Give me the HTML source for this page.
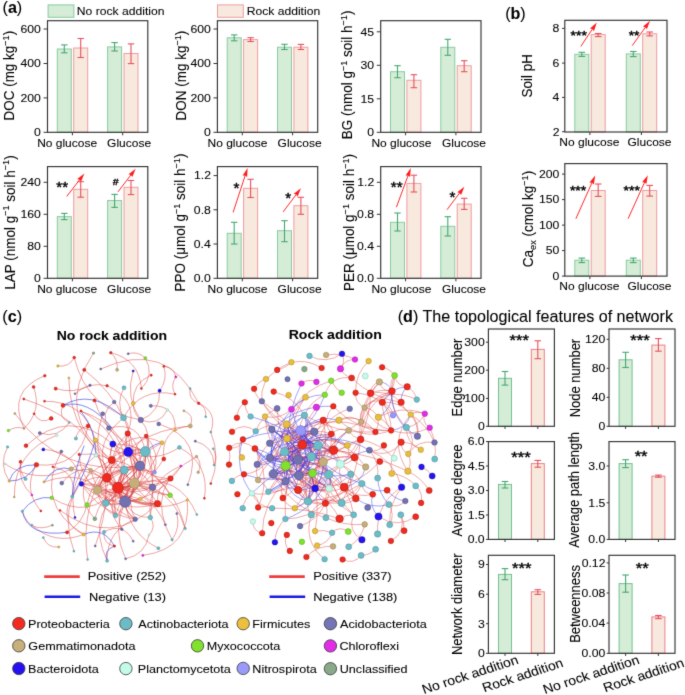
<!DOCTYPE html>
<html><head><meta charset="utf-8"><title>Figure</title>
<style>html,body{margin:0;padding:0;background:#fff;}svg{display:block;}text{font-family:"Liberation Sans", sans-serif;}</style>
</head><body>
<svg width="685" height="695" viewBox="0 0 685 695" font-family='"Liberation Sans", sans-serif'>
<defs><filter id="soft" x="0" y="0" width="685" height="695" filterUnits="userSpaceOnUse" color-interpolation-filters="sRGB"><feConvolveMatrix order="3" kernelMatrix="0.0114 0.084 0.0114 0.084 0.618 0.084 0.0114 0.084 0.0114" edgeMode="duplicate" preserveAlpha="false"/></filter></defs>
<rect width="100%" height="100%" fill="#ffffff"/>
<g filter="url(#soft)">
<rect width="100%" height="100%" fill="#ffffff"/>
<text font-size="16.1" text-anchor="start" font-weight="normal" fill="#000" stroke="#000" stroke-width="0.08" transform="translate(2.53 13.2) scale(1 1.0)">(<tspan font-weight="bold">a</tspan>)</text>
<text font-size="16.1" text-anchor="start" font-weight="normal" fill="#000" stroke="#000" stroke-width="0.08" transform="translate(505.13 19.4) scale(1 1.0)">(<tspan font-weight="bold">b</tspan>)</text>
<text font-size="16.1" text-anchor="start" font-weight="normal" fill="#000" stroke="#000" stroke-width="0.08" transform="translate(2.33 322.1) scale(1 1.0)">(<tspan font-weight="bold">c</tspan>)</text>
<text font-size="16.1" text-anchor="start" font-weight="normal" fill="#000" stroke="#000" stroke-width="0.08" transform="translate(397.73 322.2) scale(1 1.0)">(<tspan font-weight="bold">d</tspan>) The topological features of network</text>
<rect x="48.1" y="4.9" width="25.8" height="12.4" fill="#d5ecd6" stroke="#88cca0" stroke-width="1"/>
<text font-size="12.15" text-anchor="start" font-weight="normal" fill="#000" stroke="#000" stroke-width="0.08" transform="translate(76.83 15.1) scale(1 0.92)">No rock addition</text>
<rect x="217.5" y="4.9" width="25.8" height="12.4" fill="#f7e9dd" stroke="#f09ca2" stroke-width="1"/>
<text font-size="12.15" text-anchor="start" font-weight="normal" fill="#000" stroke="#000" stroke-width="0.08" transform="translate(246.63 15.1) scale(1 0.92)">Rock addition</text>
<rect x="57.3" y="49" width="14" height="83.3" fill="#d5ecd6" stroke="#88cca0" stroke-width="1"/>
<rect x="73.7" y="48" width="14" height="84.3" fill="#f7e9dd" stroke="#f09ca2" stroke-width="1"/>
<line x1="64.3" y1="44.9" x2="64.3" y2="52.8" stroke="#45a870" stroke-width="1.1"/>
<line x1="61.1" y1="44.9" x2="67.5" y2="44.9" stroke="#45a870" stroke-width="1.1"/>
<line x1="61.1" y1="52.8" x2="67.5" y2="52.8" stroke="#45a870" stroke-width="1.1"/>
<line x1="80.7" y1="38.5" x2="80.7" y2="57.5" stroke="#e8505e" stroke-width="1.1"/>
<line x1="77.5" y1="38.5" x2="83.9" y2="38.5" stroke="#e8505e" stroke-width="1.1"/>
<line x1="77.5" y1="57.5" x2="83.9" y2="57.5" stroke="#e8505e" stroke-width="1.1"/>
<rect x="107.6" y="46.9" width="14" height="85.4" fill="#d5ecd6" stroke="#88cca0" stroke-width="1"/>
<rect x="124" y="53.5" width="14" height="78.8" fill="#f7e9dd" stroke="#f09ca2" stroke-width="1"/>
<line x1="114.6" y1="42.6" x2="114.6" y2="51" stroke="#45a870" stroke-width="1.1"/>
<line x1="111.4" y1="42.6" x2="117.8" y2="42.6" stroke="#45a870" stroke-width="1.1"/>
<line x1="111.4" y1="51" x2="117.8" y2="51" stroke="#45a870" stroke-width="1.1"/>
<line x1="131" y1="43.9" x2="131" y2="63.6" stroke="#e8505e" stroke-width="1.1"/>
<line x1="127.8" y1="43.9" x2="134.2" y2="43.9" stroke="#e8505e" stroke-width="1.1"/>
<line x1="127.8" y1="63.6" x2="134.2" y2="63.6" stroke="#e8505e" stroke-width="1.1"/>
<rect x="47.5" y="20.7" width="100.3" height="111.6" fill="none" stroke="#333333" stroke-width="1.15"/>
<line x1="43.6" y1="132.3" x2="47.5" y2="132.3" stroke="#333333" stroke-width="1"/>
<text font-size="12.25" text-anchor="start" font-weight="normal" fill="#000" stroke="#000" stroke-width="0.08" transform="translate(34.09 136.15) scale(1 0.92)">0</text>
<line x1="43.6" y1="97.9" x2="47.5" y2="97.9" stroke="#333333" stroke-width="1"/>
<text font-size="12.25" text-anchor="start" font-weight="normal" fill="#000" stroke="#000" stroke-width="0.08" transform="translate(20.49 101.75) scale(1 0.92)">200</text>
<line x1="43.6" y1="63.5" x2="47.5" y2="63.5" stroke="#333333" stroke-width="1"/>
<text font-size="12.25" text-anchor="start" font-weight="normal" fill="#000" stroke="#000" stroke-width="0.08" transform="translate(20.49 67.35) scale(1 0.92)">400</text>
<line x1="43.6" y1="29" x2="47.5" y2="29" stroke="#333333" stroke-width="1"/>
<text font-size="12.25" text-anchor="start" font-weight="normal" fill="#000" stroke="#000" stroke-width="0.08" transform="translate(20.49 32.85) scale(1 0.92)">600</text>
<line x1="72.4" y1="132.3" x2="72.4" y2="135.3" stroke="#333333" stroke-width="1"/>
<line x1="122.7" y1="132.3" x2="122.7" y2="135.3" stroke="#333333" stroke-width="1"/>
<text font-size="12" text-anchor="start" font-weight="normal" fill="#000" stroke="#000" stroke-width="0.08" transform="translate(37.14 147.2) scale(1 0.92)">No glucose</text>
<text font-size="12" text-anchor="start" font-weight="normal" fill="#000" stroke="#000" stroke-width="0.08" transform="translate(107.1 147.2) scale(1 0.92)">Glucose</text>
<rect x="227.2" y="37.8" width="14" height="94.5" fill="#d5ecd6" stroke="#88cca0" stroke-width="1"/>
<rect x="243.6" y="39.6" width="14" height="92.7" fill="#f7e9dd" stroke="#f09ca2" stroke-width="1"/>
<line x1="234.2" y1="34.9" x2="234.2" y2="40.8" stroke="#45a870" stroke-width="1.1"/>
<line x1="231" y1="34.9" x2="237.4" y2="34.9" stroke="#45a870" stroke-width="1.1"/>
<line x1="231" y1="40.8" x2="237.4" y2="40.8" stroke="#45a870" stroke-width="1.1"/>
<line x1="250.6" y1="37.7" x2="250.6" y2="41.5" stroke="#e8505e" stroke-width="1.1"/>
<line x1="247.4" y1="37.7" x2="253.8" y2="37.7" stroke="#e8505e" stroke-width="1.1"/>
<line x1="247.4" y1="41.5" x2="253.8" y2="41.5" stroke="#e8505e" stroke-width="1.1"/>
<rect x="277.5" y="47.2" width="14" height="85.1" fill="#d5ecd6" stroke="#88cca0" stroke-width="1"/>
<rect x="293.9" y="47.2" width="14" height="85.1" fill="#f7e9dd" stroke="#f09ca2" stroke-width="1"/>
<line x1="284.5" y1="44.3" x2="284.5" y2="49.5" stroke="#45a870" stroke-width="1.1"/>
<line x1="281.3" y1="44.3" x2="287.7" y2="44.3" stroke="#45a870" stroke-width="1.1"/>
<line x1="281.3" y1="49.5" x2="287.7" y2="49.5" stroke="#45a870" stroke-width="1.1"/>
<line x1="300.9" y1="44.4" x2="300.9" y2="49.5" stroke="#e8505e" stroke-width="1.1"/>
<line x1="297.7" y1="44.4" x2="304.1" y2="44.4" stroke="#e8505e" stroke-width="1.1"/>
<line x1="297.7" y1="49.5" x2="304.1" y2="49.5" stroke="#e8505e" stroke-width="1.1"/>
<rect x="217.4" y="20.7" width="100.3" height="111.6" fill="none" stroke="#333333" stroke-width="1.15"/>
<line x1="213.5" y1="132.3" x2="217.4" y2="132.3" stroke="#333333" stroke-width="1"/>
<text font-size="12.25" text-anchor="start" font-weight="normal" fill="#000" stroke="#000" stroke-width="0.08" transform="translate(203.99 136.15) scale(1 0.92)">0</text>
<line x1="213.5" y1="97.9" x2="217.4" y2="97.9" stroke="#333333" stroke-width="1"/>
<text font-size="12.25" text-anchor="start" font-weight="normal" fill="#000" stroke="#000" stroke-width="0.08" transform="translate(190.39 101.75) scale(1 0.92)">200</text>
<line x1="213.5" y1="63.5" x2="217.4" y2="63.5" stroke="#333333" stroke-width="1"/>
<text font-size="12.25" text-anchor="start" font-weight="normal" fill="#000" stroke="#000" stroke-width="0.08" transform="translate(190.39 67.35) scale(1 0.92)">400</text>
<line x1="213.5" y1="29" x2="217.4" y2="29" stroke="#333333" stroke-width="1"/>
<text font-size="12.25" text-anchor="start" font-weight="normal" fill="#000" stroke="#000" stroke-width="0.08" transform="translate(190.39 32.85) scale(1 0.92)">600</text>
<line x1="242.3" y1="132.3" x2="242.3" y2="135.3" stroke="#333333" stroke-width="1"/>
<line x1="292.6" y1="132.3" x2="292.6" y2="135.3" stroke="#333333" stroke-width="1"/>
<text font-size="12" text-anchor="start" font-weight="normal" fill="#000" stroke="#000" stroke-width="0.08" transform="translate(207.54 147.2) scale(1 0.92)">No glucose</text>
<text font-size="12" text-anchor="start" font-weight="normal" fill="#000" stroke="#000" stroke-width="0.08" transform="translate(277.6 147.2) scale(1 0.92)">Glucose</text>
<rect x="390.5" y="71.7" width="14" height="60.6" fill="#d5ecd6" stroke="#88cca0" stroke-width="1"/>
<rect x="406.9" y="80.3" width="14" height="52" fill="#f7e9dd" stroke="#f09ca2" stroke-width="1"/>
<line x1="397.5" y1="65.7" x2="397.5" y2="77.7" stroke="#45a870" stroke-width="1.1"/>
<line x1="394.3" y1="65.7" x2="400.7" y2="65.7" stroke="#45a870" stroke-width="1.1"/>
<line x1="394.3" y1="77.7" x2="400.7" y2="77.7" stroke="#45a870" stroke-width="1.1"/>
<line x1="413.9" y1="74.7" x2="413.9" y2="87.7" stroke="#e8505e" stroke-width="1.1"/>
<line x1="410.7" y1="74.7" x2="417.1" y2="74.7" stroke="#e8505e" stroke-width="1.1"/>
<line x1="410.7" y1="87.7" x2="417.1" y2="87.7" stroke="#e8505e" stroke-width="1.1"/>
<rect x="440.8" y="47.3" width="14" height="85" fill="#d5ecd6" stroke="#88cca0" stroke-width="1"/>
<rect x="457.2" y="65.7" width="14" height="66.6" fill="#f7e9dd" stroke="#f09ca2" stroke-width="1"/>
<line x1="447.8" y1="39.3" x2="447.8" y2="55.3" stroke="#45a870" stroke-width="1.1"/>
<line x1="444.6" y1="39.3" x2="451" y2="39.3" stroke="#45a870" stroke-width="1.1"/>
<line x1="444.6" y1="55.3" x2="451" y2="55.3" stroke="#45a870" stroke-width="1.1"/>
<line x1="464.2" y1="60.7" x2="464.2" y2="71.7" stroke="#e8505e" stroke-width="1.1"/>
<line x1="461" y1="60.7" x2="467.4" y2="60.7" stroke="#e8505e" stroke-width="1.1"/>
<line x1="461" y1="71.7" x2="467.4" y2="71.7" stroke="#e8505e" stroke-width="1.1"/>
<rect x="380.7" y="20.7" width="100.3" height="111.6" fill="none" stroke="#333333" stroke-width="1.15"/>
<line x1="376.8" y1="132.3" x2="380.7" y2="132.3" stroke="#333333" stroke-width="1"/>
<text font-size="12.25" text-anchor="start" font-weight="normal" fill="#000" stroke="#000" stroke-width="0.08" transform="translate(367.29 136.15) scale(1 0.92)">0</text>
<line x1="376.8" y1="98.8" x2="380.7" y2="98.8" stroke="#333333" stroke-width="1"/>
<text font-size="12.25" text-anchor="start" font-weight="normal" fill="#000" stroke="#000" stroke-width="0.08" transform="translate(360.55 102.65) scale(1 0.92)">15</text>
<line x1="376.8" y1="65.3" x2="380.7" y2="65.3" stroke="#333333" stroke-width="1"/>
<text font-size="12.25" text-anchor="start" font-weight="normal" fill="#000" stroke="#000" stroke-width="0.08" transform="translate(360.49 69.15) scale(1 0.92)">30</text>
<line x1="376.8" y1="31.8" x2="380.7" y2="31.8" stroke="#333333" stroke-width="1"/>
<text font-size="12.25" text-anchor="start" font-weight="normal" fill="#000" stroke="#000" stroke-width="0.08" transform="translate(360.55 35.65) scale(1 0.92)">45</text>
<line x1="405.6" y1="132.3" x2="405.6" y2="135.3" stroke="#333333" stroke-width="1"/>
<line x1="455.9" y1="132.3" x2="455.9" y2="135.3" stroke="#333333" stroke-width="1"/>
<text font-size="12" text-anchor="start" font-weight="normal" fill="#000" stroke="#000" stroke-width="0.08" transform="translate(371.44 147.2) scale(1 0.92)">No glucose</text>
<text font-size="12" text-anchor="start" font-weight="normal" fill="#000" stroke="#000" stroke-width="0.08" transform="translate(442 147.2) scale(1 0.92)">Glucose</text>
<rect x="57.3" y="216.6" width="14" height="61.7" fill="#d5ecd6" stroke="#88cca0" stroke-width="1"/>
<rect x="73.7" y="189.3" width="14" height="89" fill="#f7e9dd" stroke="#f09ca2" stroke-width="1"/>
<line x1="64.3" y1="213.4" x2="64.3" y2="219.6" stroke="#45a870" stroke-width="1.1"/>
<line x1="61.1" y1="213.4" x2="67.5" y2="213.4" stroke="#45a870" stroke-width="1.1"/>
<line x1="61.1" y1="219.6" x2="67.5" y2="219.6" stroke="#45a870" stroke-width="1.1"/>
<line x1="80.7" y1="181.7" x2="80.7" y2="197.2" stroke="#e8505e" stroke-width="1.1"/>
<line x1="77.5" y1="181.7" x2="83.9" y2="181.7" stroke="#e8505e" stroke-width="1.1"/>
<line x1="77.5" y1="197.2" x2="83.9" y2="197.2" stroke="#e8505e" stroke-width="1.1"/>
<rect x="107.6" y="200.5" width="14" height="77.8" fill="#d5ecd6" stroke="#88cca0" stroke-width="1"/>
<rect x="124" y="187.3" width="14" height="91" fill="#f7e9dd" stroke="#f09ca2" stroke-width="1"/>
<line x1="114.6" y1="194.4" x2="114.6" y2="207.4" stroke="#45a870" stroke-width="1.1"/>
<line x1="111.4" y1="194.4" x2="117.8" y2="194.4" stroke="#45a870" stroke-width="1.1"/>
<line x1="111.4" y1="207.4" x2="117.8" y2="207.4" stroke="#45a870" stroke-width="1.1"/>
<line x1="131" y1="180.5" x2="131" y2="194.6" stroke="#e8505e" stroke-width="1.1"/>
<line x1="127.8" y1="180.5" x2="134.2" y2="180.5" stroke="#e8505e" stroke-width="1.1"/>
<line x1="127.8" y1="194.6" x2="134.2" y2="194.6" stroke="#e8505e" stroke-width="1.1"/>
<rect x="47.5" y="166.6" width="100.3" height="111.7" fill="none" stroke="#333333" stroke-width="1.15"/>
<line x1="43.6" y1="278.3" x2="47.5" y2="278.3" stroke="#333333" stroke-width="1"/>
<text font-size="12.25" text-anchor="start" font-weight="normal" fill="#000" stroke="#000" stroke-width="0.08" transform="translate(34.09 282.15) scale(1 0.92)">0</text>
<line x1="43.6" y1="246.3" x2="47.5" y2="246.3" stroke="#333333" stroke-width="1"/>
<text font-size="12.25" text-anchor="start" font-weight="normal" fill="#000" stroke="#000" stroke-width="0.08" transform="translate(27.29 250.15) scale(1 0.92)">80</text>
<line x1="43.6" y1="214.3" x2="47.5" y2="214.3" stroke="#333333" stroke-width="1"/>
<text font-size="12.25" text-anchor="start" font-weight="normal" fill="#000" stroke="#000" stroke-width="0.08" transform="translate(20.49 218.15) scale(1 0.92)">160</text>
<line x1="43.6" y1="182.3" x2="47.5" y2="182.3" stroke="#333333" stroke-width="1"/>
<text font-size="12.25" text-anchor="start" font-weight="normal" fill="#000" stroke="#000" stroke-width="0.08" transform="translate(20.49 186.15) scale(1 0.92)">240</text>
<line x1="72.4" y1="278.3" x2="72.4" y2="281.3" stroke="#333333" stroke-width="1"/>
<line x1="122.7" y1="278.3" x2="122.7" y2="281.3" stroke="#333333" stroke-width="1"/>
<text font-size="12" text-anchor="start" font-weight="normal" fill="#000" stroke="#000" stroke-width="0.08" transform="translate(37.14 293.2) scale(1 0.92)">No glucose</text>
<text font-size="12" text-anchor="start" font-weight="normal" fill="#000" stroke="#000" stroke-width="0.08" transform="translate(107.1 293.2) scale(1 0.92)">Glucose</text>
<rect x="227.2" y="233.3" width="14" height="45" fill="#d5ecd6" stroke="#88cca0" stroke-width="1"/>
<rect x="243.6" y="188.3" width="14" height="90" fill="#f7e9dd" stroke="#f09ca2" stroke-width="1"/>
<line x1="234.2" y1="222.3" x2="234.2" y2="244" stroke="#45a870" stroke-width="1.1"/>
<line x1="231" y1="222.3" x2="237.4" y2="222.3" stroke="#45a870" stroke-width="1.1"/>
<line x1="231" y1="244" x2="237.4" y2="244" stroke="#45a870" stroke-width="1.1"/>
<line x1="250.6" y1="179.3" x2="250.6" y2="197.5" stroke="#e8505e" stroke-width="1.1"/>
<line x1="247.4" y1="179.3" x2="253.8" y2="179.3" stroke="#e8505e" stroke-width="1.1"/>
<line x1="247.4" y1="197.5" x2="253.8" y2="197.5" stroke="#e8505e" stroke-width="1.1"/>
<rect x="277.5" y="230.7" width="14" height="47.6" fill="#d5ecd6" stroke="#88cca0" stroke-width="1"/>
<rect x="293.9" y="205.7" width="14" height="72.6" fill="#f7e9dd" stroke="#f09ca2" stroke-width="1"/>
<line x1="284.5" y1="220.7" x2="284.5" y2="241.7" stroke="#45a870" stroke-width="1.1"/>
<line x1="281.3" y1="220.7" x2="287.7" y2="220.7" stroke="#45a870" stroke-width="1.1"/>
<line x1="281.3" y1="241.7" x2="287.7" y2="241.7" stroke="#45a870" stroke-width="1.1"/>
<line x1="300.9" y1="197.3" x2="300.9" y2="214.3" stroke="#e8505e" stroke-width="1.1"/>
<line x1="297.7" y1="197.3" x2="304.1" y2="197.3" stroke="#e8505e" stroke-width="1.1"/>
<line x1="297.7" y1="214.3" x2="304.1" y2="214.3" stroke="#e8505e" stroke-width="1.1"/>
<rect x="217.4" y="166.6" width="100.3" height="111.7" fill="none" stroke="#333333" stroke-width="1.15"/>
<line x1="213.5" y1="278.3" x2="217.4" y2="278.3" stroke="#333333" stroke-width="1"/>
<text font-size="12.25" text-anchor="start" font-weight="normal" fill="#000" stroke="#000" stroke-width="0.08" transform="translate(193.76 282.15) scale(1 0.92)">0.0</text>
<line x1="213.5" y1="244" x2="217.4" y2="244" stroke="#333333" stroke-width="1"/>
<text font-size="12.25" text-anchor="start" font-weight="normal" fill="#000" stroke="#000" stroke-width="0.08" transform="translate(193.7 247.85) scale(1 0.92)">0.4</text>
<line x1="213.5" y1="209.8" x2="217.4" y2="209.8" stroke="#333333" stroke-width="1"/>
<text font-size="12.25" text-anchor="start" font-weight="normal" fill="#000" stroke="#000" stroke-width="0.08" transform="translate(193.82 213.65) scale(1 0.92)">0.8</text>
<line x1="213.5" y1="175.6" x2="217.4" y2="175.6" stroke="#333333" stroke-width="1"/>
<text font-size="12.25" text-anchor="start" font-weight="normal" fill="#000" stroke="#000" stroke-width="0.08" transform="translate(193.95 179.45) scale(1 0.92)">1.2</text>
<line x1="242.3" y1="278.3" x2="242.3" y2="281.3" stroke="#333333" stroke-width="1"/>
<line x1="292.6" y1="278.3" x2="292.6" y2="281.3" stroke="#333333" stroke-width="1"/>
<text font-size="12" text-anchor="start" font-weight="normal" fill="#000" stroke="#000" stroke-width="0.08" transform="translate(207.54 293.2) scale(1 0.92)">No glucose</text>
<text font-size="12" text-anchor="start" font-weight="normal" fill="#000" stroke="#000" stroke-width="0.08" transform="translate(277.6 293.2) scale(1 0.92)">Glucose</text>
<rect x="390.5" y="222.3" width="14" height="56" fill="#d5ecd6" stroke="#88cca0" stroke-width="1"/>
<rect x="406.9" y="183.4" width="14" height="94.9" fill="#f7e9dd" stroke="#f09ca2" stroke-width="1"/>
<line x1="397.5" y1="213" x2="397.5" y2="231" stroke="#45a870" stroke-width="1.1"/>
<line x1="394.3" y1="213" x2="400.7" y2="213" stroke="#45a870" stroke-width="1.1"/>
<line x1="394.3" y1="231" x2="400.7" y2="231" stroke="#45a870" stroke-width="1.1"/>
<line x1="413.9" y1="175.2" x2="413.9" y2="192" stroke="#e8505e" stroke-width="1.1"/>
<line x1="410.7" y1="175.2" x2="417.1" y2="175.2" stroke="#e8505e" stroke-width="1.1"/>
<line x1="410.7" y1="192" x2="417.1" y2="192" stroke="#e8505e" stroke-width="1.1"/>
<rect x="440.8" y="226.3" width="14" height="52" fill="#d5ecd6" stroke="#88cca0" stroke-width="1"/>
<rect x="457.2" y="204.1" width="14" height="74.2" fill="#f7e9dd" stroke="#f09ca2" stroke-width="1"/>
<line x1="447.8" y1="216.7" x2="447.8" y2="236" stroke="#45a870" stroke-width="1.1"/>
<line x1="444.6" y1="216.7" x2="451" y2="216.7" stroke="#45a870" stroke-width="1.1"/>
<line x1="444.6" y1="236" x2="451" y2="236" stroke="#45a870" stroke-width="1.1"/>
<line x1="464.2" y1="198.3" x2="464.2" y2="209.4" stroke="#e8505e" stroke-width="1.1"/>
<line x1="461" y1="198.3" x2="467.4" y2="198.3" stroke="#e8505e" stroke-width="1.1"/>
<line x1="461" y1="209.4" x2="467.4" y2="209.4" stroke="#e8505e" stroke-width="1.1"/>
<rect x="380.7" y="166.6" width="100.3" height="111.7" fill="none" stroke="#333333" stroke-width="1.15"/>
<line x1="376.8" y1="278.3" x2="380.7" y2="278.3" stroke="#333333" stroke-width="1"/>
<text font-size="12.25" text-anchor="start" font-weight="normal" fill="#000" stroke="#000" stroke-width="0.08" transform="translate(357.06 282.15) scale(1 0.92)">0.0</text>
<line x1="376.8" y1="246.3" x2="380.7" y2="246.3" stroke="#333333" stroke-width="1"/>
<text font-size="12.25" text-anchor="start" font-weight="normal" fill="#000" stroke="#000" stroke-width="0.08" transform="translate(357 250.15) scale(1 0.92)">0.4</text>
<line x1="376.8" y1="214.3" x2="380.7" y2="214.3" stroke="#333333" stroke-width="1"/>
<text font-size="12.25" text-anchor="start" font-weight="normal" fill="#000" stroke="#000" stroke-width="0.08" transform="translate(357.12 218.15) scale(1 0.92)">0.8</text>
<line x1="376.8" y1="182.3" x2="380.7" y2="182.3" stroke="#333333" stroke-width="1"/>
<text font-size="12.25" text-anchor="start" font-weight="normal" fill="#000" stroke="#000" stroke-width="0.08" transform="translate(357.25 186.15) scale(1 0.92)">1.2</text>
<line x1="405.6" y1="278.3" x2="405.6" y2="281.3" stroke="#333333" stroke-width="1"/>
<line x1="455.9" y1="278.3" x2="455.9" y2="281.3" stroke="#333333" stroke-width="1"/>
<text font-size="12" text-anchor="start" font-weight="normal" fill="#000" stroke="#000" stroke-width="0.08" transform="translate(371.44 293.2) scale(1 0.92)">No glucose</text>
<text font-size="12" text-anchor="start" font-weight="normal" fill="#000" stroke="#000" stroke-width="0.08" transform="translate(442 293.2) scale(1 0.92)">Glucose</text>
<text font-size="14.65" text-anchor="middle" font-weight="normal" fill="#000" stroke="#000" stroke-width="0.08" transform="translate(14.3 75.68) scale(1 0.92) rotate(-90)">DOC (mg kg<tspan font-size="9.9" dy="-5.4">&#8722;1</tspan><tspan dy="5.4">)</tspan></text>
<text font-size="14.65" text-anchor="middle" font-weight="normal" fill="#000" stroke="#000" stroke-width="0.08" transform="translate(186.3 75.58) scale(1 0.92) rotate(-90)">DON (mg kg<tspan font-size="9.9" dy="-5.4">&#8722;1</tspan><tspan dy="5.4">)</tspan></text>
<text font-size="14.65" text-anchor="middle" font-weight="normal" fill="#000" stroke="#000" stroke-width="0.08" transform="translate(352.2 74.89) scale(1 0.92) rotate(-90)">BG (nmol g<tspan font-size="9.9" dy="-5.4">&#8722;1</tspan><tspan dy="5.4"> soil h</tspan><tspan font-size="9.9" dy="-5.4">&#8722;1</tspan><tspan dy="5.4">)</tspan></text>
<text font-size="14.65" text-anchor="middle" font-weight="normal" fill="#000" stroke="#000" stroke-width="0.08" transform="translate(14.6 222.48) scale(1 0.92) rotate(-90)">LAP (nmol g<tspan font-size="9.9" dy="-5.4">&#8722;1</tspan><tspan dy="5.4"> soil h</tspan><tspan font-size="9.9" dy="-5.4">&#8722;1</tspan><tspan dy="5.4">)</tspan></text>
<text font-size="14.65" text-anchor="middle" font-weight="normal" fill="#000" stroke="#000" stroke-width="0.08" transform="translate(185 222.48) scale(1 0.92) rotate(-90)">PPO (&#956;mol g<tspan font-size="9.9" dy="-5.4">&#8722;1</tspan><tspan dy="5.4"> soil h</tspan><tspan font-size="9.9" dy="-5.4">&#8722;1</tspan><tspan dy="5.4">)</tspan></text>
<text font-size="14.65" text-anchor="middle" font-weight="normal" fill="#000" stroke="#000" stroke-width="0.08" transform="translate(354.2 222.48) scale(1 0.92) rotate(-90)">PER (&#956;mol g<tspan font-size="9.9" dy="-5.4">&#8722;1</tspan><tspan dy="5.4"> soil h</tspan><tspan font-size="9.9" dy="-5.4">&#8722;1</tspan><tspan dy="5.4">)</tspan></text>
<line x1="66.7" y1="196.5" x2="81.22" y2="177.64" stroke="#ff1e1e" stroke-width="0.95"/>
<path d="M84.4 173.5L81 181.86L79.62 179.71L77.19 178.93Z" fill="#ff1e1e"/>
<line x1="117.9" y1="191.9" x2="132.52" y2="172.84" stroke="#ff1e1e" stroke-width="0.95"/>
<path d="M135.7 168.7L132.31 177.06L130.93 174.91L128.5 174.14Z" fill="#ff1e1e"/>
<line x1="233.1" y1="212.4" x2="245.98" y2="173.06" stroke="#ff1e1e" stroke-width="0.95"/>
<path d="M247.6 168.1L247.17 177.11L245.16 175.54L242.61 175.62Z" fill="#ff1e1e"/>
<line x1="283.1" y1="211.9" x2="297.76" y2="192.47" stroke="#ff1e1e" stroke-width="0.95"/>
<path d="M300.9 188.3L297.58 196.69L296.19 194.55L293.75 193.8Z" fill="#ff1e1e"/>
<line x1="396.4" y1="207.2" x2="409" y2="173" stroke="#ff1e1e" stroke-width="0.95"/>
<path d="M410.8 168.1L410.05 177.09L408.09 175.45L405.54 175.43Z" fill="#ff1e1e"/>
<line x1="447" y1="209.7" x2="461.25" y2="190.86" stroke="#ff1e1e" stroke-width="0.95"/>
<path d="M464.4 186.7L461.07 195.09L459.68 192.94L457.24 192.19Z" fill="#ff1e1e"/>
<text font-size="15.1" fill="#000" stroke="#000" stroke-width="0.45" transform="translate(56.37 192.39) scale(1 0.92)">**</text>
<text font-size="10.6" font-weight="bold" fill="#000" stroke="#000" stroke-width="0.35" transform="translate(112.84 184.6) scale(1 0.92)">#</text>
<text font-size="15.1" fill="#000" stroke="#000" stroke-width="0.45" transform="translate(233.47 193.19) scale(1 0.92)">*</text>
<text font-size="15.1" fill="#000" stroke="#000" stroke-width="0.45" transform="translate(285.37 202.79) scale(1 0.92)">*</text>
<text font-size="15.1" fill="#000" stroke="#000" stroke-width="0.45" transform="translate(390.77 192.09) scale(1 0.92)">**</text>
<text font-size="15.1" fill="#000" stroke="#000" stroke-width="0.45" transform="translate(449.57 202.09) scale(1 0.92)">*</text>
<rect x="574.8" y="54.3" width="14" height="77.7" fill="#d5ecd6" stroke="#88cca0" stroke-width="1"/>
<rect x="591.2" y="34.6" width="14" height="97.4" fill="#f7e9dd" stroke="#f09ca2" stroke-width="1"/>
<line x1="581.8" y1="52.3" x2="581.8" y2="56.4" stroke="#45a870" stroke-width="1.1"/>
<line x1="578.5" y1="52.3" x2="585.1" y2="52.3" stroke="#45a870" stroke-width="1.1"/>
<line x1="578.5" y1="56.4" x2="585.1" y2="56.4" stroke="#45a870" stroke-width="1.1"/>
<line x1="598.2" y1="33.5" x2="598.2" y2="36.6" stroke="#e8505e" stroke-width="1.1"/>
<line x1="594.9" y1="33.5" x2="601.5" y2="33.5" stroke="#e8505e" stroke-width="1.1"/>
<line x1="594.9" y1="36.6" x2="601.5" y2="36.6" stroke="#e8505e" stroke-width="1.1"/>
<rect x="626.3" y="53.9" width="14" height="78.1" fill="#d5ecd6" stroke="#88cca0" stroke-width="1"/>
<rect x="642.7" y="33.8" width="14" height="98.2" fill="#f7e9dd" stroke="#f09ca2" stroke-width="1"/>
<line x1="633.3" y1="51.5" x2="633.3" y2="56.6" stroke="#45a870" stroke-width="1.1"/>
<line x1="630" y1="51.5" x2="636.6" y2="51.5" stroke="#45a870" stroke-width="1.1"/>
<line x1="630" y1="56.6" x2="636.6" y2="56.6" stroke="#45a870" stroke-width="1.1"/>
<line x1="649.7" y1="32" x2="649.7" y2="35.9" stroke="#e8505e" stroke-width="1.1"/>
<line x1="646.4" y1="32" x2="653" y2="32" stroke="#e8505e" stroke-width="1.1"/>
<line x1="646.4" y1="35.9" x2="653" y2="35.9" stroke="#e8505e" stroke-width="1.1"/>
<rect x="564.8" y="20.3" width="102.2" height="111.7" fill="none" stroke="#333333" stroke-width="1.15"/>
<line x1="562" y1="131.7" x2="564.8" y2="131.7" stroke="#333333" stroke-width="1"/>
<text font-size="12.25" text-anchor="start" font-weight="normal" fill="#000" stroke="#000" stroke-width="0.08" transform="translate(552.67 135.55) scale(1 0.92)">2</text>
<line x1="562" y1="97.4" x2="564.8" y2="97.4" stroke="#333333" stroke-width="1"/>
<text font-size="12.25" text-anchor="start" font-weight="normal" fill="#000" stroke="#000" stroke-width="0.08" transform="translate(552.43 101.25) scale(1 0.92)">4</text>
<line x1="562" y1="63.1" x2="564.8" y2="63.1" stroke="#333333" stroke-width="1"/>
<text font-size="12.25" text-anchor="start" font-weight="normal" fill="#000" stroke="#000" stroke-width="0.08" transform="translate(552.55 66.95) scale(1 0.92)">6</text>
<line x1="562" y1="28.4" x2="564.8" y2="28.4" stroke="#333333" stroke-width="1"/>
<text font-size="12.25" text-anchor="start" font-weight="normal" fill="#000" stroke="#000" stroke-width="0.08" transform="translate(552.55 32.25) scale(1 0.92)">8</text>
<line x1="589.9" y1="132" x2="589.9" y2="135" stroke="#333333" stroke-width="1"/>
<line x1="641.4" y1="132" x2="641.4" y2="135" stroke="#333333" stroke-width="1"/>
<text font-size="12" text-anchor="start" font-weight="normal" fill="#000" stroke="#000" stroke-width="0.08" transform="translate(559.34 145.9) scale(1 0.92)">No glucose</text>
<text font-size="12" text-anchor="start" font-weight="normal" fill="#000" stroke="#000" stroke-width="0.08" transform="translate(627.5 145.9) scale(1 0.92)">Glucose</text>
<rect x="574.8" y="260.2" width="14" height="15.9" fill="#d5ecd6" stroke="#88cca0" stroke-width="1"/>
<rect x="591.2" y="190.5" width="14" height="85.6" fill="#f7e9dd" stroke="#f09ca2" stroke-width="1"/>
<line x1="581.8" y1="258.1" x2="581.8" y2="262.6" stroke="#45a870" stroke-width="1.1"/>
<line x1="578.5" y1="258.1" x2="585.1" y2="258.1" stroke="#45a870" stroke-width="1.1"/>
<line x1="578.5" y1="262.6" x2="585.1" y2="262.6" stroke="#45a870" stroke-width="1.1"/>
<line x1="598.2" y1="184" x2="598.2" y2="196.4" stroke="#e8505e" stroke-width="1.1"/>
<line x1="594.9" y1="184" x2="601.5" y2="184" stroke="#e8505e" stroke-width="1.1"/>
<line x1="594.9" y1="196.4" x2="601.5" y2="196.4" stroke="#e8505e" stroke-width="1.1"/>
<rect x="626.3" y="260.2" width="14" height="15.9" fill="#d5ecd6" stroke="#88cca0" stroke-width="1"/>
<rect x="642.7" y="190.5" width="14" height="85.6" fill="#f7e9dd" stroke="#f09ca2" stroke-width="1"/>
<line x1="633.3" y1="258.1" x2="633.3" y2="262.6" stroke="#45a870" stroke-width="1.1"/>
<line x1="630" y1="258.1" x2="636.6" y2="258.1" stroke="#45a870" stroke-width="1.1"/>
<line x1="630" y1="262.6" x2="636.6" y2="262.6" stroke="#45a870" stroke-width="1.1"/>
<line x1="649.7" y1="185.4" x2="649.7" y2="196.1" stroke="#e8505e" stroke-width="1.1"/>
<line x1="646.4" y1="185.4" x2="653" y2="185.4" stroke="#e8505e" stroke-width="1.1"/>
<line x1="646.4" y1="196.1" x2="653" y2="196.1" stroke="#e8505e" stroke-width="1.1"/>
<rect x="564.8" y="163.6" width="102.2" height="112.5" fill="none" stroke="#333333" stroke-width="1.15"/>
<line x1="562" y1="276.1" x2="564.8" y2="276.1" stroke="#333333" stroke-width="1"/>
<text font-size="12.25" text-anchor="start" font-weight="normal" fill="#000" stroke="#000" stroke-width="0.08" transform="translate(552.49 279.95) scale(1 0.92)">0</text>
<line x1="562" y1="250.6" x2="564.8" y2="250.6" stroke="#333333" stroke-width="1"/>
<text font-size="12.25" text-anchor="start" font-weight="normal" fill="#000" stroke="#000" stroke-width="0.08" transform="translate(545.69 254.45) scale(1 0.92)">50</text>
<line x1="562" y1="225.1" x2="564.8" y2="225.1" stroke="#333333" stroke-width="1"/>
<text font-size="12.25" text-anchor="start" font-weight="normal" fill="#000" stroke="#000" stroke-width="0.08" transform="translate(538.89 228.95) scale(1 0.92)">100</text>
<line x1="562" y1="199.6" x2="564.8" y2="199.6" stroke="#333333" stroke-width="1"/>
<text font-size="12.25" text-anchor="start" font-weight="normal" fill="#000" stroke="#000" stroke-width="0.08" transform="translate(538.89 203.45) scale(1 0.92)">150</text>
<line x1="562" y1="174.1" x2="564.8" y2="174.1" stroke="#333333" stroke-width="1"/>
<text font-size="12.25" text-anchor="start" font-weight="normal" fill="#000" stroke="#000" stroke-width="0.08" transform="translate(538.89 177.95) scale(1 0.92)">200</text>
<line x1="589.9" y1="276.1" x2="589.9" y2="279.1" stroke="#333333" stroke-width="1"/>
<line x1="641.4" y1="276.1" x2="641.4" y2="279.1" stroke="#333333" stroke-width="1"/>
<text font-size="12" text-anchor="start" font-weight="normal" fill="#000" stroke="#000" stroke-width="0.08" transform="translate(559.34 290) scale(1 0.92)">No glucose</text>
<text font-size="12" text-anchor="start" font-weight="normal" fill="#000" stroke="#000" stroke-width="0.08" transform="translate(627.5 290) scale(1 0.92)">Glucose</text>
<text font-size="14.65" text-anchor="middle" font-weight="normal" fill="#000" stroke="#000" stroke-width="0.08" transform="translate(532.4 75.71) scale(1 0.92) rotate(-90)">Soil pH</text>
<text font-size="14.65" text-anchor="middle" font-weight="normal" fill="#000" stroke="#000" stroke-width="0.08" transform="translate(533 218.98) scale(1 0.92) rotate(-90)">Ca<tspan font-size="9.9" dy="3.1">ex</tspan><tspan dy="-3.1"> (cmol kg</tspan><tspan font-size="9.9" dy="-5.4">&#8722;1</tspan><tspan dy="5.4">)</tspan></text>
<line x1="580.8" y1="46.4" x2="593.89" y2="26.93" stroke="#ff1e1e" stroke-width="0.95"/>
<path d="M596.8 22.6L593.94 31.16L592.43 29.1L589.95 28.48Z" fill="#ff1e1e"/>
<line x1="632.2" y1="45.7" x2="646.96" y2="25.05" stroke="#ff1e1e" stroke-width="0.95"/>
<path d="M650 20.8L646.89 29.27L645.45 27.17L642.99 26.48Z" fill="#ff1e1e"/>
<line x1="575.9" y1="218.7" x2="593.07" y2="180.27" stroke="#ff1e1e" stroke-width="0.95"/>
<path d="M595.2 175.5L593.84 184.42L592.01 182.65L589.46 182.46Z" fill="#ff1e1e"/>
<line x1="628.1" y1="218.7" x2="645.65" y2="179.96" stroke="#ff1e1e" stroke-width="0.95"/>
<path d="M647.8 175.2L646.4 184.12L644.57 182.33L642.02 182.14Z" fill="#ff1e1e"/>
<text font-size="14" fill="#000" stroke="#000" stroke-width="0.45" transform="translate(570.59 39.87) scale(1 0.92)">***</text>
<text font-size="13.8" fill="#000" stroke="#000" stroke-width="0.45" transform="translate(628.69 39.57) scale(1 0.92)">**</text>
<text font-size="14" fill="#000" stroke="#000" stroke-width="0.45" transform="translate(569.89 195.07) scale(1 0.92)">***</text>
<text font-size="14" fill="#000" stroke="#000" stroke-width="0.45" transform="translate(623.59 195.07) scale(1 0.92)">***</text>
<rect x="498.5" y="378.3" width="13" height="48" fill="#d5ecd6" stroke="#72c290" stroke-width="1"/>
<rect x="531.3" y="349.4" width="13" height="76.9" fill="#f7e9dd" stroke="#ec8089" stroke-width="1"/>
<line x1="505" y1="371.5" x2="505" y2="385.1" stroke="#45a870" stroke-width="1.1"/>
<line x1="501.7" y1="371.5" x2="508.3" y2="371.5" stroke="#45a870" stroke-width="1.1"/>
<line x1="501.7" y1="385.1" x2="508.3" y2="385.1" stroke="#45a870" stroke-width="1.1"/>
<line x1="537.8" y1="340.8" x2="537.8" y2="358.7" stroke="#e8505e" stroke-width="1.1"/>
<line x1="534.5" y1="340.8" x2="541.1" y2="340.8" stroke="#e8505e" stroke-width="1.1"/>
<line x1="534.5" y1="358.7" x2="541.1" y2="358.7" stroke="#e8505e" stroke-width="1.1"/>
<rect x="488.4" y="329" width="66" height="97.3" fill="none" stroke="#333333" stroke-width="1.15"/>
<line x1="486" y1="426.3" x2="488.4" y2="426.3" stroke="#333333" stroke-width="1"/>
<text font-size="12.25" text-anchor="start" font-weight="normal" fill="#000" stroke="#000" stroke-width="0.08" transform="translate(477.89 430.15) scale(1 0.92)">0</text>
<line x1="486" y1="398.4" x2="488.4" y2="398.4" stroke="#333333" stroke-width="1"/>
<text font-size="12.25" text-anchor="start" font-weight="normal" fill="#000" stroke="#000" stroke-width="0.08" transform="translate(464.29 402.25) scale(1 0.92)">100</text>
<line x1="486" y1="370.2" x2="488.4" y2="370.2" stroke="#333333" stroke-width="1"/>
<text font-size="12.25" text-anchor="start" font-weight="normal" fill="#000" stroke="#000" stroke-width="0.08" transform="translate(464.29 374.05) scale(1 0.92)">200</text>
<line x1="486" y1="342.2" x2="488.4" y2="342.2" stroke="#333333" stroke-width="1"/>
<text font-size="12.25" text-anchor="start" font-weight="normal" fill="#000" stroke="#000" stroke-width="0.08" transform="translate(464.29 346.05) scale(1 0.92)">300</text>
<line x1="505" y1="426.3" x2="505" y2="428.9" stroke="#333333" stroke-width="1"/>
<line x1="537.8" y1="426.3" x2="537.8" y2="428.9" stroke="#333333" stroke-width="1"/>
<text font-size="14.1" text-anchor="middle" font-weight="normal" fill="#000" stroke="#000" stroke-width="0.08" transform="translate(462.3 377.56) scale(1 0.92) rotate(-90)">Edge number</text>
<text font-size="16.6" fill="#000" stroke="#000" stroke-width="0.45" transform="translate(509.55 344.8) scale(1 0.92)">***</text>
<rect x="619.1" y="359.8" width="13" height="66.5" fill="#d5ecd6" stroke="#72c290" stroke-width="1"/>
<rect x="651.9" y="345.1" width="13" height="81.2" fill="#f7e9dd" stroke="#ec8089" stroke-width="1"/>
<line x1="625.6" y1="352.3" x2="625.6" y2="367.5" stroke="#45a870" stroke-width="1.1"/>
<line x1="622.3" y1="352.3" x2="628.9" y2="352.3" stroke="#45a870" stroke-width="1.1"/>
<line x1="622.3" y1="367.5" x2="628.9" y2="367.5" stroke="#45a870" stroke-width="1.1"/>
<line x1="658.4" y1="338.6" x2="658.4" y2="351.2" stroke="#e8505e" stroke-width="1.1"/>
<line x1="655.1" y1="338.6" x2="661.7" y2="338.6" stroke="#e8505e" stroke-width="1.1"/>
<line x1="655.1" y1="351.2" x2="661.7" y2="351.2" stroke="#e8505e" stroke-width="1.1"/>
<rect x="609" y="329" width="66" height="97.3" fill="none" stroke="#333333" stroke-width="1.15"/>
<line x1="606.6" y1="426.3" x2="609" y2="426.3" stroke="#333333" stroke-width="1"/>
<text font-size="12.25" text-anchor="start" font-weight="normal" fill="#000" stroke="#000" stroke-width="0.08" transform="translate(598.49 430.15) scale(1 0.92)">0</text>
<line x1="606.6" y1="397.3" x2="609" y2="397.3" stroke="#333333" stroke-width="1"/>
<text font-size="12.25" text-anchor="start" font-weight="normal" fill="#000" stroke="#000" stroke-width="0.08" transform="translate(591.69 401.15) scale(1 0.92)">40</text>
<line x1="606.6" y1="368.3" x2="609" y2="368.3" stroke="#333333" stroke-width="1"/>
<text font-size="12.25" text-anchor="start" font-weight="normal" fill="#000" stroke="#000" stroke-width="0.08" transform="translate(591.69 372.15) scale(1 0.92)">80</text>
<line x1="606.6" y1="339.3" x2="609" y2="339.3" stroke="#333333" stroke-width="1"/>
<text font-size="12.25" text-anchor="start" font-weight="normal" fill="#000" stroke="#000" stroke-width="0.08" transform="translate(584.89 343.15) scale(1 0.92)">120</text>
<line x1="625.6" y1="426.3" x2="625.6" y2="428.9" stroke="#333333" stroke-width="1"/>
<line x1="658.4" y1="426.3" x2="658.4" y2="428.9" stroke="#333333" stroke-width="1"/>
<text font-size="14.1" text-anchor="middle" font-weight="normal" fill="#000" stroke="#000" stroke-width="0.08" transform="translate(579.8 378.06) scale(1 0.92) rotate(-90)">Node number</text>
<text font-size="16.6" fill="#000" stroke="#000" stroke-width="0.45" transform="translate(630.35 345.1) scale(1 0.92)">***</text>
<rect x="498.5" y="484.4" width="13" height="55" fill="#d5ecd6" stroke="#72c290" stroke-width="1"/>
<rect x="531.3" y="463.6" width="13" height="75.8" fill="#f7e9dd" stroke="#ec8089" stroke-width="1"/>
<line x1="505" y1="481.5" x2="505" y2="488" stroke="#45a870" stroke-width="1.1"/>
<line x1="501.7" y1="481.5" x2="508.3" y2="481.5" stroke="#45a870" stroke-width="1.1"/>
<line x1="501.7" y1="488" x2="508.3" y2="488" stroke="#45a870" stroke-width="1.1"/>
<line x1="537.8" y1="460.4" x2="537.8" y2="467.2" stroke="#e8505e" stroke-width="1.1"/>
<line x1="534.5" y1="460.4" x2="541.1" y2="460.4" stroke="#e8505e" stroke-width="1.1"/>
<line x1="534.5" y1="467.2" x2="541.1" y2="467.2" stroke="#e8505e" stroke-width="1.1"/>
<rect x="488.4" y="441.6" width="66" height="97.8" fill="none" stroke="#333333" stroke-width="1.15"/>
<line x1="486" y1="539.4" x2="488.4" y2="539.4" stroke="#333333" stroke-width="1"/>
<text font-size="12.25" text-anchor="start" font-weight="normal" fill="#000" stroke="#000" stroke-width="0.08" transform="translate(467.66 543.25) scale(1 0.92)">0.0</text>
<line x1="486" y1="515" x2="488.4" y2="515" stroke="#333333" stroke-width="1"/>
<text font-size="12.25" text-anchor="start" font-weight="normal" fill="#000" stroke="#000" stroke-width="0.08" transform="translate(467.72 518.85) scale(1 0.92)">1.5</text>
<line x1="486" y1="490.5" x2="488.4" y2="490.5" stroke="#333333" stroke-width="1"/>
<text font-size="12.25" text-anchor="start" font-weight="normal" fill="#000" stroke="#000" stroke-width="0.08" transform="translate(467.66 494.35) scale(1 0.92)">3.0</text>
<line x1="486" y1="466" x2="488.4" y2="466" stroke="#333333" stroke-width="1"/>
<text font-size="12.25" text-anchor="start" font-weight="normal" fill="#000" stroke="#000" stroke-width="0.08" transform="translate(467.72 469.85) scale(1 0.92)">4.5</text>
<line x1="486" y1="441.6" x2="488.4" y2="441.6" stroke="#333333" stroke-width="1"/>
<text font-size="12.25" text-anchor="start" font-weight="normal" fill="#000" stroke="#000" stroke-width="0.08" transform="translate(467.66 445.45) scale(1 0.92)">6.0</text>
<line x1="505" y1="539.4" x2="505" y2="542" stroke="#333333" stroke-width="1"/>
<line x1="537.8" y1="539.4" x2="537.8" y2="542" stroke="#333333" stroke-width="1"/>
<text font-size="14.1" text-anchor="middle" font-weight="normal" fill="#000" stroke="#000" stroke-width="0.08" transform="translate(461.5 490.45) scale(1 0.92) rotate(-90)">Average degree</text>
<text font-size="16.6" fill="#000" stroke="#000" stroke-width="0.45" transform="translate(511.25 461.9) scale(1 0.92)">***</text>
<rect x="619.1" y="463.6" width="13" height="75.8" fill="#d5ecd6" stroke="#72c290" stroke-width="1"/>
<rect x="651.9" y="476.2" width="13" height="63.2" fill="#f7e9dd" stroke="#ec8089" stroke-width="1"/>
<line x1="625.6" y1="459.7" x2="625.6" y2="467.6" stroke="#45a870" stroke-width="1.1"/>
<line x1="622.3" y1="459.7" x2="628.9" y2="459.7" stroke="#45a870" stroke-width="1.1"/>
<line x1="622.3" y1="467.6" x2="628.9" y2="467.6" stroke="#45a870" stroke-width="1.1"/>
<line x1="658.4" y1="475.1" x2="658.4" y2="477.2" stroke="#e8505e" stroke-width="1.1"/>
<line x1="655.1" y1="475.1" x2="661.7" y2="475.1" stroke="#e8505e" stroke-width="1.1"/>
<line x1="655.1" y1="477.2" x2="661.7" y2="477.2" stroke="#e8505e" stroke-width="1.1"/>
<rect x="609" y="441.6" width="66" height="97.8" fill="none" stroke="#333333" stroke-width="1.15"/>
<line x1="606.6" y1="539.4" x2="609" y2="539.4" stroke="#333333" stroke-width="1"/>
<text font-size="12.25" text-anchor="start" font-weight="normal" fill="#000" stroke="#000" stroke-width="0.08" transform="translate(588.26 543.25) scale(1 0.92)">0.0</text>
<line x1="606.6" y1="502.8" x2="609" y2="502.8" stroke="#333333" stroke-width="1"/>
<text font-size="12.25" text-anchor="start" font-weight="normal" fill="#000" stroke="#000" stroke-width="0.08" transform="translate(588.32 506.65) scale(1 0.92)">1.5</text>
<line x1="606.6" y1="466" x2="609" y2="466" stroke="#333333" stroke-width="1"/>
<text font-size="12.25" text-anchor="start" font-weight="normal" fill="#000" stroke="#000" stroke-width="0.08" transform="translate(588.26 469.85) scale(1 0.92)">3.0</text>
<line x1="625.6" y1="539.4" x2="625.6" y2="542" stroke="#333333" stroke-width="1"/>
<line x1="658.4" y1="539.4" x2="658.4" y2="542" stroke="#333333" stroke-width="1"/>
<text font-size="14.1" text-anchor="middle" font-weight="normal" fill="#000" stroke="#000" stroke-width="0.08" transform="translate(579.3 489.92) scale(1 0.92) rotate(-90)">Average path length</text>
<text font-size="16.6" fill="#000" stroke="#000" stroke-width="0.45" transform="translate(634.65 461.2) scale(1 0.92)">**</text>
<rect x="498.5" y="574.4" width="13" height="78.9" fill="#d5ecd6" stroke="#72c290" stroke-width="1"/>
<rect x="531.3" y="591.8" width="13" height="61.5" fill="#f7e9dd" stroke="#ec8089" stroke-width="1"/>
<line x1="505" y1="568.6" x2="505" y2="579.7" stroke="#45a870" stroke-width="1.1"/>
<line x1="501.7" y1="568.6" x2="508.3" y2="568.6" stroke="#45a870" stroke-width="1.1"/>
<line x1="501.7" y1="579.7" x2="508.3" y2="579.7" stroke="#45a870" stroke-width="1.1"/>
<line x1="537.8" y1="589.7" x2="537.8" y2="594.4" stroke="#e8505e" stroke-width="1.1"/>
<line x1="534.5" y1="589.7" x2="541.1" y2="589.7" stroke="#e8505e" stroke-width="1.1"/>
<line x1="534.5" y1="594.4" x2="541.1" y2="594.4" stroke="#e8505e" stroke-width="1.1"/>
<rect x="488.4" y="555.3" width="66" height="98" fill="none" stroke="#333333" stroke-width="1.15"/>
<line x1="486" y1="653.3" x2="488.4" y2="653.3" stroke="#333333" stroke-width="1"/>
<text font-size="12.25" text-anchor="start" font-weight="normal" fill="#000" stroke="#000" stroke-width="0.08" transform="translate(477.89 657.15) scale(1 0.92)">0</text>
<line x1="486" y1="623.7" x2="488.4" y2="623.7" stroke="#333333" stroke-width="1"/>
<text font-size="12.25" text-anchor="start" font-weight="normal" fill="#000" stroke="#000" stroke-width="0.08" transform="translate(477.95 627.55) scale(1 0.92)">3</text>
<line x1="486" y1="594.2" x2="488.4" y2="594.2" stroke="#333333" stroke-width="1"/>
<text font-size="12.25" text-anchor="start" font-weight="normal" fill="#000" stroke="#000" stroke-width="0.08" transform="translate(477.95 598.05) scale(1 0.92)">6</text>
<line x1="486" y1="564.5" x2="488.4" y2="564.5" stroke="#333333" stroke-width="1"/>
<text font-size="12.25" text-anchor="start" font-weight="normal" fill="#000" stroke="#000" stroke-width="0.08" transform="translate(478.01 568.35) scale(1 0.92)">9</text>
<line x1="505" y1="653.3" x2="505" y2="655.9" stroke="#333333" stroke-width="1"/>
<line x1="537.8" y1="653.3" x2="537.8" y2="655.9" stroke="#333333" stroke-width="1"/>
<text font-size="14.1" text-anchor="middle" font-weight="normal" fill="#000" stroke="#000" stroke-width="0.08" transform="translate(461.5 604.28) scale(1 0.92) rotate(-90)">Network diameter</text>
<text font-size="16.6" fill="#000" stroke="#000" stroke-width="0.45" transform="translate(512.05 573.1) scale(1 0.92)">***</text>
<rect x="619.1" y="583.6" width="13" height="69.7" fill="#d5ecd6" stroke="#72c290" stroke-width="1"/>
<rect x="651.9" y="616.9" width="13" height="36.4" fill="#f7e9dd" stroke="#ec8089" stroke-width="1"/>
<line x1="625.6" y1="575" x2="625.6" y2="592.2" stroke="#45a870" stroke-width="1.1"/>
<line x1="622.3" y1="575" x2="628.9" y2="575" stroke="#45a870" stroke-width="1.1"/>
<line x1="622.3" y1="592.2" x2="628.9" y2="592.2" stroke="#45a870" stroke-width="1.1"/>
<line x1="658.4" y1="615.5" x2="658.4" y2="618.7" stroke="#e8505e" stroke-width="1.1"/>
<line x1="655.1" y1="615.5" x2="661.7" y2="615.5" stroke="#e8505e" stroke-width="1.1"/>
<line x1="655.1" y1="618.7" x2="661.7" y2="618.7" stroke="#e8505e" stroke-width="1.1"/>
<rect x="609" y="555.3" width="66" height="98" fill="none" stroke="#333333" stroke-width="1.15"/>
<line x1="606.6" y1="653.3" x2="609" y2="653.3" stroke="#333333" stroke-width="1"/>
<text font-size="12.25" text-anchor="start" font-weight="normal" fill="#000" stroke="#000" stroke-width="0.08" transform="translate(581.46 657.15) scale(1 0.92)">0.00</text>
<line x1="606.6" y1="623.1" x2="609" y2="623.1" stroke="#333333" stroke-width="1"/>
<text font-size="12.25" text-anchor="start" font-weight="normal" fill="#000" stroke="#000" stroke-width="0.08" transform="translate(581.4 626.95) scale(1 0.92)">0.04</text>
<line x1="606.6" y1="593" x2="609" y2="593" stroke="#333333" stroke-width="1"/>
<text font-size="12.25" text-anchor="start" font-weight="normal" fill="#000" stroke="#000" stroke-width="0.08" transform="translate(581.53 596.85) scale(1 0.92)">0.08</text>
<line x1="606.6" y1="562.9" x2="609" y2="562.9" stroke="#333333" stroke-width="1"/>
<text font-size="12.25" text-anchor="start" font-weight="normal" fill="#000" stroke="#000" stroke-width="0.08" transform="translate(581.65 566.75) scale(1 0.92)">0.12</text>
<line x1="625.6" y1="653.3" x2="625.6" y2="655.9" stroke="#333333" stroke-width="1"/>
<line x1="658.4" y1="653.3" x2="658.4" y2="655.9" stroke="#333333" stroke-width="1"/>
<text font-size="14.1" text-anchor="middle" font-weight="normal" fill="#000" stroke="#000" stroke-width="0.08" transform="translate(580 603.97) scale(1 0.92) rotate(-90)">Betweenness</text>
<text font-size="16.6" fill="#000" stroke="#000" stroke-width="0.45" transform="translate(635.75 573.4) scale(1 0.92)">**</text>
<text font-size="14" text-anchor="start" font-weight="normal" fill="#000" stroke="#000" stroke-width="0.08" transform="translate(423.88 694) scale(1 0.92) rotate(-19.3)">No rock addition</text>
<text font-size="14" text-anchor="start" font-weight="normal" fill="#000" stroke="#000" stroke-width="0.08" transform="translate(484.18 692.2) scale(1 0.92) rotate(-19.3)">Rock addition</text>
<text font-size="14" text-anchor="start" font-weight="normal" fill="#000" stroke="#000" stroke-width="0.08" transform="translate(544.88 694) scale(1 0.92) rotate(-19.3)">No rock addition</text>
<text font-size="14" text-anchor="start" font-weight="normal" fill="#000" stroke="#000" stroke-width="0.08" transform="translate(605.18 692.2) scale(1 0.92) rotate(-19.3)">Rock addition</text>
<text font-size="14" text-anchor="start" font-weight="bold" fill="#000" stroke="#000" stroke-width="0.08" transform="translate(56.67 339.8) scale(1 0.92)">No rock addition</text>
<text font-size="14.1" text-anchor="start" font-weight="bold" fill="#000" stroke="#000" stroke-width="0.08" transform="translate(288.7 339.4) scale(1 0.92)">Rock addition</text>
<line x1="44.2" y1="576.6" x2="79.8" y2="576.6" stroke="#f03c3c" stroke-width="2.6"/>
<line x1="44.6" y1="596.8" x2="80.2" y2="596.8" stroke="#1a1ae6" stroke-width="2.6"/>
<text font-size="12.85" text-anchor="start" font-weight="normal" fill="#000" stroke="#000" stroke-width="0.08" transform="translate(87.67 580.4) scale(1 0.92)">Positive (252)</text>
<text font-size="12.85" text-anchor="start" font-weight="normal" fill="#000" stroke="#000" stroke-width="0.08" transform="translate(88.97 600.5) scale(1 0.92)">Negative (13)</text>
<line x1="269.2" y1="576.6" x2="304.8" y2="576.6" stroke="#f03c3c" stroke-width="2.6"/>
<line x1="269.6" y1="596.8" x2="305.2" y2="596.8" stroke="#1a1ae6" stroke-width="2.6"/>
<text font-size="12.85" text-anchor="start" font-weight="normal" fill="#000" stroke="#000" stroke-width="0.08" transform="translate(313.17 580.4) scale(1 0.92)">Positive (337)</text>
<text font-size="12.85" text-anchor="start" font-weight="normal" fill="#000" stroke="#000" stroke-width="0.08" transform="translate(313.17 600.5) scale(1 0.92)">Negative (138)</text>
<circle cx="18.8" cy="623.6" r="6.2" fill="#f52a1e" stroke="#3a3a3a" stroke-width="0.8"/>
<text font-size="12.6" text-anchor="start" font-weight="normal" fill="#000" stroke="#000" stroke-width="0.08" transform="translate(27.99 628.3) scale(1 0.92)">Proteobacteria</text>
<circle cx="125.9" cy="623.7" r="6.2" fill="#6cbcc8" stroke="#3a3a3a" stroke-width="0.8"/>
<text font-size="12.6" text-anchor="start" font-weight="normal" fill="#000" stroke="#000" stroke-width="0.08" transform="translate(138.3 628.3) scale(1 0.92)">Actinobacteriota</text>
<circle cx="243.2" cy="623.7" r="6.2" fill="#ecc03c" stroke="#3a3a3a" stroke-width="0.8"/>
<text font-size="12.6" text-anchor="start" font-weight="normal" fill="#000" stroke="#000" stroke-width="0.08" transform="translate(252.29 628.3) scale(1 0.92)">Firmicutes</text>
<circle cx="330.4" cy="623.7" r="6.2" fill="#7474b6" stroke="#3a3a3a" stroke-width="0.8"/>
<text font-size="12.6" text-anchor="start" font-weight="normal" fill="#000" stroke="#000" stroke-width="0.08" transform="translate(340.1 628.3) scale(1 0.92)">Acidobacteriota</text>
<circle cx="18.8" cy="645.8" r="6.2" fill="#c8b07c" stroke="#3a3a3a" stroke-width="0.8"/>
<text font-size="12.6" text-anchor="start" font-weight="normal" fill="#000" stroke="#000" stroke-width="0.08" transform="translate(28.37 650.3) scale(1 0.92)">Gemmatimonadota</text>
<circle cx="197.5" cy="645.8" r="6.2" fill="#80e22c" stroke="#3a3a3a" stroke-width="0.8"/>
<text font-size="12.6" text-anchor="start" font-weight="normal" fill="#000" stroke="#000" stroke-width="0.08" transform="translate(206.79 650.3) scale(1 0.92)">Myxococcota</text>
<circle cx="330.4" cy="645.9" r="6.2" fill="#e22ce8" stroke="#3a3a3a" stroke-width="0.8"/>
<text font-size="12.6" text-anchor="start" font-weight="normal" fill="#000" stroke="#000" stroke-width="0.08" transform="translate(339.47 650.3) scale(1 0.92)">Chloroflexi</text>
<circle cx="18.8" cy="668.5" r="6.2" fill="#2610f2" stroke="#3a3a3a" stroke-width="0.8"/>
<text font-size="12.6" text-anchor="start" font-weight="normal" fill="#000" stroke="#000" stroke-width="0.08" transform="translate(27.99 673.1) scale(1 0.92)">Bacteroidota</text>
<circle cx="125.9" cy="668.6" r="6.2" fill="#c4faea" stroke="#3a3a3a" stroke-width="0.8"/>
<text font-size="12.6" text-anchor="start" font-weight="normal" fill="#000" stroke="#000" stroke-width="0.08" transform="translate(137.79 673.1) scale(1 0.92)">Planctomycetota</text>
<circle cx="243.2" cy="668.4" r="6.2" fill="#9a9afa" stroke="#3a3a3a" stroke-width="0.8"/>
<text font-size="12.6" text-anchor="start" font-weight="normal" fill="#000" stroke="#000" stroke-width="0.08" transform="translate(252.29 673.1) scale(1 0.92)">Nitrospirota</text>
<circle cx="330.4" cy="668.7" r="6.2" fill="#8aa88a" stroke="#3a3a3a" stroke-width="0.8"/>
<text font-size="12.6" text-anchor="start" font-weight="normal" fill="#000" stroke="#000" stroke-width="0.08" transform="translate(339.75 673.1) scale(1 0.92)">Unclassified</text>
<path d="M108.8 428.1Q139.9 419.9 145.3 451.6M165.4 524.7Q152 492.9 117.9 487.8M105.8 503.1Q103.4 460.3 145.3 451.6M94.5 400.4Q106.4 439.4 145.3 451.6M94.8 518.8Q73.8 496.1 90.6 470.1M24 428.4Q15.7 425.7 8.4 430.6M60.1 510.4Q111.7 548.9 157.5 503.7M71.3 469Q81.5 459.8 90.6 470.1M58.8 547Q47.3 548.4 43.3 537.6M198.7 403.3Q207.2 407.5 205.7 416.8M175.2 429.8Q176.1 404.5 150.8 405.8M81.4 483.9Q76.5 451 43.3 449.4M145.3 358.1Q155.2 374.9 141.4 388.6M87 504.9Q83.2 523.1 67.1 532.3M97.4 490Q97 479.9 106.8 477.8M159.6 390.7Q160.9 412.2 140.8 420M183.9 410.8Q195.3 414.9 190.3 425.9M214.1 465.1Q217.8 456.7 213.3 448.7M110.8 352.7Q139.3 359.4 141.4 388.6M158.4 548.2Q129.1 534 125.1 501.7M26 445.7Q68.6 406.5 112.8 444M7.6 446.9Q-2 464.5 9.2 481.1M162.1 442.7Q128.4 426.4 111.8 460M170.5 478.5Q155.8 486.9 157.5 503.7M121.8 529.2Q104.3 510 117.9 487.8M93.5 353.1Q51.8 415.3 111.8 460M140.3 499Q106.6 508.2 81.4 483.9M20.5 461.8Q17.2 481.5 31.9 495M72.2 496.5Q57.2 521.7 83.6 534.4M163.8 366.3Q168.2 379.6 159.6 390.7M114.4 546.1Q102.4 544 104.1 531.9M34.1 413.8Q40.2 425.4 51.2 418.4M57.9 366Q69.1 367.7 74.2 357.6M52.4 525.2Q29.8 534.6 22.3 511.3M95.2 546Q135.7 435.5 23.8 399M107.1 560.8Q82.6 508.6 134.4 483.2M190.1 388.6Q187.8 399.8 198.7 403.3M56.7 435.3Q13.8 451.2 14.3 497M187.8 484.7Q205.5 438.8 158.7 423.9M167.4 410Q158.7 427.2 140.8 420M115.4 515.5Q115.7 481.1 81.4 483.9M151.2 375.2Q132 382.7 133.2 403.3M146.1 436Q152.1 444.1 145.3 451.6M80.9 411Q117.6 429.5 124.3 470.1M127.7 433.5Q140.3 399.8 107.1 385.8M36.4 464.8Q80.2 469.3 88.1 425.9M84.3 369.8Q139.8 413.1 134.4 483.2M117.1 369.8Q118.6 359.5 110.8 352.7M31.9 525.2Q54.9 546 83.6 534.4M102.7 413.8Q90.6 446.7 106.8 477.8M51.7 497.8Q89.1 521.4 117.9 487.8M61.8 483.1Q81.7 458.4 106.8 477.8M135.2 519.2Q100.5 505.9 90.6 470.1M61.3 451.6Q33.4 503.5 83.6 534.4M133.2 371Q124.6 397.4 140.8 420M125.6 558.8Q111.5 530.4 125.1 501.7M195.3 441.2Q213.9 445.9 214.1 465.1M52.9 466.8Q77.7 471.8 72.2 496.5M90 385.3Q73.6 394.3 55.7 388.6M185.2 528.4Q177.5 501 152.5 487.3M75 517.5Q66 479.8 96 455.3M95.4 440.2Q117.3 459.4 145.3 451.6M142.8 555.4Q191.8 549.2 187.3 500M175.8 376.9Q173.9 367 163.8 366.3M123.5 417.7Q84 449.8 117.9 487.8M40.8 510.9Q22.2 489.4 36.4 464.8M128.2 353.7Q138.1 350.6 145.3 358.1M179.4 447.4Q155 463.7 128.2 451.9M210.8 432.1Q218.3 412 198.7 403.3M33.6 387Q42.4 410.9 24 428.4M204.4 498.3Q210.4 463.8 179.4 447.4M172.1 539.8Q141.9 485.8 196.5 456.6M124 387.8Q115.4 402.6 123.5 417.7M149 535.1Q145.4 554.9 125.6 558.8M25.5 478.9Q19 471.5 20.5 461.8M198.2 472.3Q203 463.8 196.5 456.6M69.2 422.6Q58.5 439.1 39.8 433.1M176.8 513.5Q180.7 527.8 172.1 539.8M139.9 465.9Q127.8 447.8 146.1 436M133.2 541.2Q123.5 521.5 104.1 531.9M100.7 369Q166.4 338.4 198.7 403.3M44.8 375.7Q6.4 391 24 428.4M175 394.2Q140.3 386.4 123.5 417.7M154.5 472.2Q156 459.2 145.3 451.6M163.8 459Q160.1 428.8 190.3 425.9M170.1 495.3Q120 485 95.4 440.2M5 463.9Q36.7 484.9 71.3 469M210.8 483.6Q221.3 457.9 210.8 432.1M63 405.4Q57.1 417.2 69.2 422.6M73.9 551.2Q52 488.6 111.8 460M68.8 377.9Q69.7 440.2 124.3 470.1M150.3 517.5Q157 526.8 149 535.1M75.9 438.5Q77.5 427.9 88.1 425.9M114.2 402Q98.9 412.5 108.8 428.1M87.6 559.5Q79.2 504.8 111.8 460M180.9 466Q146 480.1 150.3 517.5M196.8 514.6Q179.1 472 134.4 483.2M44.5 401.2Q85.2 400.8 95.4 440.2M14.8 413.5Q61.2 478.2 139.9 465.9M75 393.7Q88.9 381.1 107.1 385.8M79.2 454.4Q79.4 476.7 97.4 490M44 481.9Q96.3 463.5 115.4 515.5M107.1 560.8Q106.6 530.1 135.2 519.2M139.9 465.9Q148 460.8 145.3 451.6M94.8 518.8Q99.7 498.3 117.9 487.8M140.8 420Q87.1 410.6 74.2 357.6M185.2 528.4Q175.8 487.5 139.9 465.9M175 394.2Q169.9 385.3 175.8 376.9M190.3 425.9Q125.5 431.3 97.4 490M108.8 428.1Q127.1 445.2 124.3 470.1M134.4 483.2Q121.2 497.2 115.4 515.5M128.2 451.9Q94.7 468.4 87 504.9M97.4 490Q126.1 502.9 157.5 503.7M145.3 451.6Q152.8 468.7 152.5 487.3M134.4 483.2Q126 501.4 135.2 519.2M115.4 515.5Q113.3 501.3 117.9 487.8M124.3 470.1Q132.7 470.2 139.9 465.9M117.9 487.8Q131.8 479.7 139.9 465.9M134.4 483.2Q127.2 489.1 117.9 487.8M97.4 490Q100.3 482.5 106.8 477.8M146.1 436Q160.3 451.8 154.5 472.2M112.8 444Q127.5 454.6 145.3 451.6M115.4 515.5Q123.4 510.8 125.1 501.7M145.3 451.6Q136.7 447.8 128.2 451.9M117.9 487.8Q104.3 467.2 112.8 444M134.4 483.2Q123.4 489.2 125.1 501.7M106.8 477.8Q108.9 486.6 117.9 487.8M125.1 501.7Q134 494.6 134.4 483.2M157.5 503.7Q148.1 504.3 140.3 499M145.3 451.6Q147.5 460.6 139.9 465.9M106.8 477.8Q99 481.5 97.4 490M117.9 487.8Q117.6 496.8 125.1 501.7M117.9 487.8Q115 498 105.8 503.1M124.3 470.1Q127.2 478.3 134.4 483.2M134.4 483.2Q114.5 479 97.4 490M170.1 495.3Q160.1 475.4 139.9 465.9M124.3 470.1Q113.1 468.3 106.8 477.8M97.4 490Q123.4 514.7 157.5 503.7M90.6 470.1Q109.2 487.6 134.4 483.2M97.4 490Q117.9 497.6 134.4 483.2M117.9 487.8Q148.4 518.1 187.3 500M134.4 483.2Q147.8 470.2 145.3 451.6M140.8 420Q153.1 434.4 145.3 451.6M125.1 501.7Q147.8 481.7 145.3 451.6M117.9 487.8Q107.9 491.1 97.4 490M125.1 501.7Q118.8 496.1 117.9 487.8M152.5 487.3Q144.5 480.7 134.4 483.2M106.8 477.8Q121.2 465.8 139.9 465.9M162.1 442.7Q131.6 457 117.9 487.8M81.4 483.9Q88.1 490.3 97.4 490M127.7 433.5Q124.8 442.8 128.2 451.9M134.4 483.2Q134.8 466.9 128.2 451.9M134.4 483.2Q125.3 490.2 125.1 501.7M125.1 501.7Q133.8 494.5 134.4 483.2M125.1 501.7Q114.3 514.4 121.8 529.2M97.4 490Q115.2 471.9 139.9 465.9M111.8 460Q138.9 463.6 152.5 487.3M180.9 466Q161.7 497.5 125.1 501.7M125.1 501.7Q136.1 495.7 134.4 483.2M97.4 490Q114 489.4 125.1 501.7M117.9 487.8Q131.8 479.8 139.9 465.9M124.3 470.1Q132.1 485.7 125.1 501.7M106.8 477.8Q92.7 475 81.4 483.9M170.1 495.3Q150.7 493.9 134.4 483.2M96 455.3Q109 462.9 106.8 477.8M134.4 483.2Q126.8 487.7 117.9 487.8M133.2 403.3Q132.9 413.5 140.8 420M157.5 503.7Q133.6 505.9 117.9 487.8M146.1 436Q157.2 476.3 150.3 517.5M117.9 487.8Q120.6 506.8 135.2 519.2M117.9 487.8Q125.8 473.7 139.9 465.9M97.4 490Q99.1 498.2 105.8 503.1M87 504.9Q100.6 493 117.9 487.8M134.4 483.2Q126.5 490.8 125.1 501.7M163.8 459Q143.2 492.2 105.8 503.1M106.8 477.8Q109.4 486.1 117.9 487.8M134.4 483.2Q126.9 488.2 117.9 487.8M106.8 477.8Q119.1 495.5 140.3 499M124.3 470.1Q117.8 477.8 117.9 487.8M134.4 483.2Q141.5 475.9 139.9 465.9M139.9 465.9Q112.9 467.9 97.4 490M128.2 451.9Q122.3 442.9 127.7 433.5M152.5 487.3Q142.8 488 134.4 483.2M81.4 483.9Q105.9 486.3 125.1 501.7M96 455.3Q111.9 468.2 117.9 487.8M135.2 519.2Q125.2 513.3 125.1 501.7M117.9 487.8Q128.6 464.4 112.8 444M125.1 501.7Q114.3 486.2 124.3 470.1M135.2 519.2Q100.3 513.8 81.4 483.9M150.3 517.5Q132.2 518.3 125.1 501.7M139.9 465.9Q136 457.3 128.2 451.9M157.5 503.7Q149.8 489.1 134.4 483.2M117.9 487.8Q115.1 479.8 106.8 477.8M112.8 444Q108.7 451.8 111.8 460M145.3 451.6Q138.7 457.3 139.9 465.9M124.3 470.1Q124.7 480.2 117.9 487.8M134.4 483.2Q126.8 487.9 117.9 487.8M117.9 487.8Q117.4 496.9 125.1 501.7M134.4 483.2Q114.9 485.6 105.8 503.1M97.4 490Q104.5 471.4 124.3 470.1M125.1 501.7Q143.7 503.9 152.5 487.3M117.9 487.8Q132.3 480.3 139.9 465.9M117.9 487.8Q97.6 470.9 71.3 469M134.4 483.2Q126.8 488 117.9 487.8M154.5 472.2Q129.5 464.9 106.8 477.8M128.2 451.9Q136.7 447.5 145.3 451.6M125.1 501.7Q115.5 486.1 124.3 470.1M105.8 503.1Q115.8 507.5 125.1 501.7M117.9 487.8Q116.9 477.4 124.3 470.1M115.4 515.5Q99 507.9 97.4 490M117.9 487.8Q117.7 477.7 124.3 470.1M117.9 487.8Q126.7 487.6 134.4 483.2M106.8 477.8Q110.9 484.5 117.9 487.8M111.8 460Q112.8 469.9 106.8 477.8M139.9 465.9Q137.2 456.3 128.2 451.9M117.9 487.8Q132.3 509.1 157.5 503.7M139.9 465.9Q142.7 476.3 134.4 483.2M117.9 487.8Q127.2 489.3 134.4 483.2M105.8 503.1Q115.2 498.1 117.9 487.8M128.2 451.9Q117.3 450.5 111.8 460M134.4 483.2Q135 495.1 125.1 501.7M157.5 503.7Q141.6 498.3 134.4 483.2M128.2 451.9Q141.4 465.5 134.4 483.2M124.3 470.1Q125.6 480.6 117.9 487.8M125.1 501.7Q117.6 496.8 117.9 487.8M139.9 465.9Q139.7 475.4 134.4 483.2M117.9 487.8Q125.4 482.6 134.4 483.2M127.7 433.5Q115.9 444.4 111.8 460M170.5 478.5Q153.4 488.4 134.4 483.2M112.8 444Q130 443.6 145.3 451.6M170.5 478.5Q146.2 494.2 117.9 487.8M97.4 490Q107.1 466.4 128.2 451.9M170.5 478.5Q141.1 478.4 128.2 451.9M128.2 451.9Q136.6 456.8 139.9 465.9M134.4 483.2Q127.5 490.4 117.9 487.8M117.9 487.8Q126 474 139.9 465.9M145.3 451.6Q145 459.7 139.9 465.9M117.9 487.8Q119.6 495.7 125.1 501.7M80.9 411Q132.6 428.6 134.4 483.2M152.5 487.3Q135.3 495.9 117.9 487.8M125.1 501.7Q115.7 505.4 105.8 503.1M117.9 487.8Q119.3 495.9 125.1 501.7M128.2 451.9Q131.1 442.6 127.7 433.5M105.8 503.1Q133.9 479.7 170.5 478.5M139.9 465.9Q131.3 465.1 124.3 470.1M106.8 477.8Q123.7 507.3 157.5 503.7M127.7 433.5Q142.1 446.6 139.9 465.9M139.9 465.9Q143.2 476.5 134.4 483.2M79.2 454.4Q105.8 450.7 124.3 470.1M125.1 501.7Q149.8 476.1 162.1 442.7M127.7 433.5Q130.4 424.3 123.5 417.7M125.1 501.7Q134.7 494.9 134.4 483.2" fill="none" stroke="#de4a4a" stroke-width="0.6" stroke-opacity="0.85" stroke-linecap="round"/>
<path d="M63 405.4Q92 388 123.5 417.7M63 405.4Q88 398 112 428M9.2 481.1Q14 464 36.4 464.8M9.2 481.1Q28 481 36.4 464.8M44 481.9Q55 464 71.3 469M72.2 496.5Q74 470 84 446M72.2 496.5Q86 472 95.4 440.2M22.3 511.3Q28 538 67.1 532.3M22.3 511.3Q34 495 51.7 497.8M83.6 534.4Q104 526 114.4 546.1M107.1 560.8Q103 550 114.4 546.1M145.3 451.6Q155 443 162.1 442.7M80.9 411Q96 430 96 455.3" fill="none" stroke="#4050e8" stroke-width="0.75" stroke-opacity="0.9" stroke-linecap="round"/>
<circle cx="93.5" cy="353.1" r="1.2" fill="#88a888" stroke="#587858" stroke-width="0.45"/>
<circle cx="110.8" cy="352.7" r="1.3" fill="#f02a1e" stroke="#a01810" stroke-width="0.45"/>
<circle cx="74.2" cy="357.6" r="1.4" fill="#f02a1e" stroke="#a01810" stroke-width="0.45"/>
<circle cx="57.9" cy="366" r="1.2" fill="#e8be3c" stroke="#a88420" stroke-width="0.45"/>
<circle cx="84.3" cy="369.8" r="1.6" fill="#f02a1e" stroke="#a01810" stroke-width="0.45"/>
<circle cx="100.7" cy="369" r="1" fill="#7272b2" stroke="#454580" stroke-width="0.45"/>
<circle cx="44.8" cy="375.7" r="1.3" fill="#f02a1e" stroke="#a01810" stroke-width="0.45"/>
<circle cx="68.8" cy="377.9" r="1" fill="#e8be3c" stroke="#a88420" stroke-width="0.45"/>
<circle cx="33.6" cy="387" r="1.4" fill="#f02a1e" stroke="#a01810" stroke-width="0.45"/>
<circle cx="55.7" cy="388.6" r="1.6" fill="#f02a1e" stroke="#a01810" stroke-width="0.45"/>
<circle cx="90" cy="385.3" r="1.2" fill="#7272b2" stroke="#454580" stroke-width="0.45"/>
<circle cx="107.1" cy="385.8" r="1.3" fill="#f02a1e" stroke="#a01810" stroke-width="0.45"/>
<circle cx="75" cy="393.7" r="0.9" fill="#7272b2" stroke="#454580" stroke-width="0.45"/>
<circle cx="23.8" cy="399" r="1.1" fill="#f02a1e" stroke="#a01810" stroke-width="0.45"/>
<circle cx="44.5" cy="401.2" r="1" fill="#f02a1e" stroke="#a01810" stroke-width="0.45"/>
<circle cx="63" cy="405.4" r="2" fill="#f02a1e" stroke="#a01810" stroke-width="0.45"/>
<circle cx="94.5" cy="400.4" r="1.6" fill="#f02a1e" stroke="#a01810" stroke-width="0.45"/>
<circle cx="114.2" cy="402" r="1.8" fill="#7272b2" stroke="#454580" stroke-width="0.45"/>
<circle cx="14.8" cy="413.5" r="1" fill="#c6ae7a" stroke="#8c7a50" stroke-width="0.45"/>
<circle cx="34.1" cy="413.8" r="1" fill="#f02a1e" stroke="#a01810" stroke-width="0.45"/>
<circle cx="80.9" cy="411" r="1.1" fill="#f02a1e" stroke="#a01810" stroke-width="0.45"/>
<circle cx="102.7" cy="413.8" r="2" fill="#7272b2" stroke="#454580" stroke-width="0.45"/>
<circle cx="51.2" cy="418.4" r="1.9" fill="#f02a1e" stroke="#a01810" stroke-width="0.45"/>
<circle cx="69.2" cy="422.6" r="0.9" fill="#6cbcc8" stroke="#3f8a96" stroke-width="0.45"/>
<circle cx="88.1" cy="425.9" r="2" fill="#f02a1e" stroke="#a01810" stroke-width="0.45"/>
<circle cx="108.8" cy="428.1" r="2.3" fill="#7272b2" stroke="#454580" stroke-width="0.45"/>
<circle cx="8.4" cy="430.6" r="1.3" fill="#80e02c" stroke="#50a018" stroke-width="0.45"/>
<circle cx="24" cy="428.4" r="1" fill="#c6ae7a" stroke="#8c7a50" stroke-width="0.45"/>
<circle cx="39.8" cy="433.1" r="1.5" fill="#7272b2" stroke="#454580" stroke-width="0.45"/>
<circle cx="56.7" cy="435.3" r="1.3" fill="#c4faea" stroke="#80c0b0" stroke-width="0.45"/>
<circle cx="75.9" cy="438.5" r="1.6" fill="#6cbcc8" stroke="#3f8a96" stroke-width="0.45"/>
<circle cx="95.4" cy="440.2" r="2.3" fill="#e8be3c" stroke="#a88420" stroke-width="0.45"/>
<circle cx="112.8" cy="444" r="3" fill="#2414f0" stroke="#1008a0" stroke-width="0.45"/>
<circle cx="7.6" cy="446.9" r="1.2" fill="#6cbcc8" stroke="#3f8a96" stroke-width="0.45"/>
<circle cx="26" cy="445.7" r="1.9" fill="#f02a1e" stroke="#a01810" stroke-width="0.45"/>
<circle cx="43.3" cy="449.4" r="1.5" fill="#2414f0" stroke="#1008a0" stroke-width="0.45"/>
<circle cx="61.3" cy="451.6" r="1.5" fill="#7272b2" stroke="#454580" stroke-width="0.45"/>
<circle cx="96" cy="455.3" r="1.8" fill="#c4faea" stroke="#80c0b0" stroke-width="0.45"/>
<circle cx="79.2" cy="454.4" r="1.2" fill="#f02a1e" stroke="#a01810" stroke-width="0.45"/>
<circle cx="111.8" cy="460" r="3.6" fill="#f02a1e" stroke="#a01810" stroke-width="0.45"/>
<circle cx="128.2" cy="353.7" r="1" fill="#7272b2" stroke="#454580" stroke-width="0.45"/>
<circle cx="145.3" cy="358.1" r="1.5" fill="#80e02c" stroke="#50a018" stroke-width="0.45"/>
<circle cx="117.1" cy="369.8" r="1.5" fill="#c6ae7a" stroke="#8c7a50" stroke-width="0.45"/>
<circle cx="133.2" cy="371" r="1.1" fill="#2414f0" stroke="#1008a0" stroke-width="0.45"/>
<circle cx="151.2" cy="375.2" r="1.1" fill="#f02a1e" stroke="#a01810" stroke-width="0.45"/>
<circle cx="163.8" cy="366.3" r="1.1" fill="#f02a1e" stroke="#a01810" stroke-width="0.45"/>
<circle cx="175.8" cy="376.9" r="1.1" fill="#e02ce6" stroke="#a018a8" stroke-width="0.45"/>
<circle cx="124" cy="387.8" r="2" fill="#6cbcc8" stroke="#3f8a96" stroke-width="0.45"/>
<circle cx="141.4" cy="388.6" r="1" fill="#f02a1e" stroke="#a01810" stroke-width="0.45"/>
<circle cx="159.6" cy="390.7" r="1.6" fill="#2414f0" stroke="#1008a0" stroke-width="0.45"/>
<circle cx="175" cy="394.2" r="1" fill="#f02a1e" stroke="#a01810" stroke-width="0.45"/>
<circle cx="190.1" cy="388.6" r="1" fill="#6cbcc8" stroke="#3f8a96" stroke-width="0.45"/>
<circle cx="198.7" cy="403.3" r="1.3" fill="#f02a1e" stroke="#a01810" stroke-width="0.45"/>
<circle cx="133.2" cy="403.3" r="1.9" fill="#e8be3c" stroke="#a88420" stroke-width="0.45"/>
<circle cx="150.8" cy="405.8" r="1.6" fill="#7272b2" stroke="#454580" stroke-width="0.45"/>
<circle cx="167.4" cy="410" r="1.3" fill="#c4faea" stroke="#80c0b0" stroke-width="0.45"/>
<circle cx="183.9" cy="410.8" r="1" fill="#c6ae7a" stroke="#8c7a50" stroke-width="0.45"/>
<circle cx="205.7" cy="416.8" r="1" fill="#6cbcc8" stroke="#3f8a96" stroke-width="0.45"/>
<circle cx="123.5" cy="417.7" r="3" fill="#6cbcc8" stroke="#3f8a96" stroke-width="0.45"/>
<circle cx="140.8" cy="420" r="2.7" fill="#7272b2" stroke="#454580" stroke-width="0.45"/>
<circle cx="158.7" cy="423.9" r="1.9" fill="#7272b2" stroke="#454580" stroke-width="0.45"/>
<circle cx="190.3" cy="425.9" r="2" fill="#c6ae7a" stroke="#8c7a50" stroke-width="0.45"/>
<circle cx="175.2" cy="429.8" r="1.3" fill="#e8be3c" stroke="#a88420" stroke-width="0.45"/>
<circle cx="210.8" cy="432.1" r="1" fill="#6cbcc8" stroke="#3f8a96" stroke-width="0.45"/>
<circle cx="127.7" cy="433.5" r="2.7" fill="#f02a1e" stroke="#a01810" stroke-width="0.45"/>
<circle cx="146.1" cy="436" r="1.9" fill="#f02a1e" stroke="#a01810" stroke-width="0.45"/>
<circle cx="162.1" cy="442.7" r="2" fill="#e8be3c" stroke="#a88420" stroke-width="0.45"/>
<circle cx="195.3" cy="441.2" r="1.1" fill="#7272b2" stroke="#454580" stroke-width="0.45"/>
<circle cx="179.4" cy="447.4" r="1.9" fill="#6cbcc8" stroke="#3f8a96" stroke-width="0.45"/>
<circle cx="213.3" cy="448.7" r="1" fill="#6cbcc8" stroke="#3f8a96" stroke-width="0.45"/>
<circle cx="128.2" cy="451.9" r="4.6" fill="#2414f0" stroke="#1008a0" stroke-width="0.45"/>
<circle cx="145.3" cy="451.6" r="5" fill="#6cbcc8" stroke="#3f8a96" stroke-width="0.45"/>
<circle cx="196.5" cy="456.6" r="1.3" fill="#c6ae7a" stroke="#8c7a50" stroke-width="0.45"/>
<circle cx="163.8" cy="459" r="2" fill="#f02a1e" stroke="#a01810" stroke-width="0.45"/>
<circle cx="5" cy="463.9" r="1" fill="#c4faea" stroke="#80c0b0" stroke-width="0.45"/>
<circle cx="20.5" cy="461.8" r="1.5" fill="#f02a1e" stroke="#a01810" stroke-width="0.45"/>
<circle cx="36.4" cy="464.8" r="2.3" fill="#f02a1e" stroke="#a01810" stroke-width="0.45"/>
<circle cx="52.9" cy="466.8" r="1" fill="#f02a1e" stroke="#a01810" stroke-width="0.45"/>
<circle cx="71.3" cy="469" r="2.2" fill="#c6ae7a" stroke="#8c7a50" stroke-width="0.45"/>
<circle cx="90.6" cy="470.1" r="1.9" fill="#c6ae7a" stroke="#8c7a50" stroke-width="0.45"/>
<circle cx="9.2" cy="481.1" r="1.2" fill="#e8be3c" stroke="#a88420" stroke-width="0.45"/>
<circle cx="25.5" cy="478.9" r="1.6" fill="#6cbcc8" stroke="#3f8a96" stroke-width="0.45"/>
<circle cx="44" cy="481.9" r="1.1" fill="#e8be3c" stroke="#a88420" stroke-width="0.45"/>
<circle cx="61.8" cy="483.1" r="1.9" fill="#7272b2" stroke="#454580" stroke-width="0.45"/>
<circle cx="81.4" cy="483.9" r="2.3" fill="#2414f0" stroke="#1008a0" stroke-width="0.45"/>
<circle cx="106.8" cy="477.8" r="4.5" fill="#f02a1e" stroke="#a01810" stroke-width="0.45"/>
<circle cx="97.4" cy="490" r="4.3" fill="#c6ae7a" stroke="#8c7a50" stroke-width="0.45"/>
<circle cx="31.9" cy="495" r="1" fill="#e02ce6" stroke="#a018a8" stroke-width="0.45"/>
<circle cx="51.7" cy="497.8" r="1.8" fill="#80e02c" stroke="#50a018" stroke-width="0.45"/>
<circle cx="72.2" cy="496.5" r="1.5" fill="#6cbcc8" stroke="#3f8a96" stroke-width="0.45"/>
<circle cx="87" cy="504.9" r="2.3" fill="#80e02c" stroke="#50a018" stroke-width="0.45"/>
<circle cx="105.8" cy="503.1" r="3.3" fill="#6cbcc8" stroke="#3f8a96" stroke-width="0.45"/>
<circle cx="14.3" cy="497" r="0.9" fill="#c6ae7a" stroke="#8c7a50" stroke-width="0.45"/>
<circle cx="22.3" cy="511.3" r="1.2" fill="#6cbcc8" stroke="#3f8a96" stroke-width="0.45"/>
<circle cx="40.8" cy="510.9" r="1" fill="#f02a1e" stroke="#a01810" stroke-width="0.45"/>
<circle cx="60.1" cy="510.4" r="0.9" fill="#f02a1e" stroke="#a01810" stroke-width="0.45"/>
<circle cx="75" cy="517.5" r="1" fill="#2414f0" stroke="#1008a0" stroke-width="0.45"/>
<circle cx="94.8" cy="518.8" r="1.9" fill="#88a888" stroke="#587858" stroke-width="0.45"/>
<circle cx="31.9" cy="525.2" r="1" fill="#6cbcc8" stroke="#3f8a96" stroke-width="0.45"/>
<circle cx="52.4" cy="525.2" r="1" fill="#88a888" stroke="#587858" stroke-width="0.45"/>
<circle cx="67.1" cy="532.3" r="1.6" fill="#f02a1e" stroke="#a01810" stroke-width="0.45"/>
<circle cx="83.6" cy="534.4" r="1.6" fill="#e8be3c" stroke="#a88420" stroke-width="0.45"/>
<circle cx="104.1" cy="531.9" r="1.6" fill="#6cbcc8" stroke="#3f8a96" stroke-width="0.45"/>
<circle cx="43.3" cy="537.6" r="1" fill="#6cbcc8" stroke="#3f8a96" stroke-width="0.45"/>
<circle cx="58.8" cy="547" r="1.1" fill="#e8be3c" stroke="#a88420" stroke-width="0.45"/>
<circle cx="73.9" cy="551.2" r="1" fill="#6cbcc8" stroke="#3f8a96" stroke-width="0.45"/>
<circle cx="95.2" cy="546" r="1" fill="#7272b2" stroke="#454580" stroke-width="0.45"/>
<circle cx="87.6" cy="559.5" r="1" fill="#6cbcc8" stroke="#3f8a96" stroke-width="0.45"/>
<circle cx="107.1" cy="560.8" r="1.5" fill="#6cbcc8" stroke="#3f8a96" stroke-width="0.45"/>
<circle cx="114.4" cy="546.1" r="1.2" fill="#f02a1e" stroke="#a01810" stroke-width="0.45"/>
<circle cx="214.1" cy="465.1" r="1" fill="#6cbcc8" stroke="#3f8a96" stroke-width="0.45"/>
<circle cx="180.9" cy="466" r="1.1" fill="#e02ce6" stroke="#a018a8" stroke-width="0.45"/>
<circle cx="198.2" cy="472.3" r="1.3" fill="#c6ae7a" stroke="#8c7a50" stroke-width="0.45"/>
<circle cx="139.9" cy="465.9" r="4.8" fill="#7272b2" stroke="#454580" stroke-width="0.45"/>
<circle cx="124.3" cy="470.1" r="4" fill="#6cbcc8" stroke="#3f8a96" stroke-width="0.45"/>
<circle cx="154.5" cy="472.2" r="1.9" fill="#9898fa" stroke="#6060c0" stroke-width="0.45"/>
<circle cx="170.5" cy="478.5" r="2.7" fill="#f02a1e" stroke="#a01810" stroke-width="0.45"/>
<circle cx="210.8" cy="483.6" r="1" fill="#f02a1e" stroke="#a01810" stroke-width="0.45"/>
<circle cx="117.9" cy="487.8" r="5.5" fill="#f02a1e" stroke="#a01810" stroke-width="0.45"/>
<circle cx="134.4" cy="483.2" r="5.2" fill="#c6ae7a" stroke="#8c7a50" stroke-width="0.45"/>
<circle cx="152.5" cy="487.3" r="3.3" fill="#7272b2" stroke="#454580" stroke-width="0.45"/>
<circle cx="187.8" cy="484.7" r="1" fill="#7272b2" stroke="#454580" stroke-width="0.45"/>
<circle cx="170.1" cy="495.3" r="2.4" fill="#80e02c" stroke="#50a018" stroke-width="0.45"/>
<circle cx="187.3" cy="500" r="1.2" fill="#e8be3c" stroke="#a88420" stroke-width="0.45"/>
<circle cx="204.4" cy="498.3" r="1" fill="#f02a1e" stroke="#a01810" stroke-width="0.45"/>
<circle cx="140.3" cy="499" r="1.8" fill="#e8be3c" stroke="#a88420" stroke-width="0.45"/>
<circle cx="125.1" cy="501.7" r="5.6" fill="#7272b2" stroke="#454580" stroke-width="0.45"/>
<circle cx="157.5" cy="503.7" r="3.3" fill="#f02a1e" stroke="#a01810" stroke-width="0.45"/>
<circle cx="176.8" cy="513.5" r="1" fill="#7272b2" stroke="#454580" stroke-width="0.45"/>
<circle cx="196.8" cy="514.6" r="1" fill="#6cbcc8" stroke="#3f8a96" stroke-width="0.45"/>
<circle cx="115.4" cy="515.5" r="2.3" fill="#6cbcc8" stroke="#3f8a96" stroke-width="0.45"/>
<circle cx="135.2" cy="519.2" r="2.3" fill="#7272b2" stroke="#454580" stroke-width="0.45"/>
<circle cx="150.3" cy="517.5" r="2.3" fill="#6cbcc8" stroke="#3f8a96" stroke-width="0.45"/>
<circle cx="165.4" cy="524.7" r="1" fill="#7272b2" stroke="#454580" stroke-width="0.45"/>
<circle cx="121.8" cy="529.2" r="1.3" fill="#7272b2" stroke="#454580" stroke-width="0.45"/>
<circle cx="185.2" cy="528.4" r="1.2" fill="#6cbcc8" stroke="#3f8a96" stroke-width="0.45"/>
<circle cx="149" cy="535.1" r="0.9" fill="#c4faea" stroke="#80c0b0" stroke-width="0.45"/>
<circle cx="133.2" cy="541.2" r="1" fill="#7272b2" stroke="#454580" stroke-width="0.45"/>
<circle cx="172.1" cy="539.8" r="1.2" fill="#6cbcc8" stroke="#3f8a96" stroke-width="0.45"/>
<circle cx="158.4" cy="548.2" r="1.5" fill="#6cbcc8" stroke="#3f8a96" stroke-width="0.45"/>
<circle cx="142.8" cy="555.4" r="1.1" fill="#e02ce6" stroke="#a018a8" stroke-width="0.45"/>
<circle cx="125.6" cy="558.8" r="1" fill="#7272b2" stroke="#454580" stroke-width="0.45"/>
<path d="M391.9 391.1Q388.5 382.5 394.6 375.5M265 416.5Q265 424.7 271.8 429.3M388.9 504.6Q395.3 514.5 389.7 524.8M353.6 514.8Q346.7 531 361.9 539.8M369.4 450.2Q378.3 452.8 383.9 445.4M417.4 436.2Q418.7 423.9 410.7 414.5M421.5 466.9Q428.4 469.6 432.2 476M332.1 532.7Q323.9 529.1 315.1 531.1M242.9 439.4Q239.8 449.7 229.2 447.8M308 501.3Q310.7 482 328.7 474.5M317.1 545.5Q328.5 543.7 332.1 532.7M401.1 442.2Q388.7 459.7 369.4 450.2M351.6 377.9Q343.8 376.1 340.5 368.8M339.6 518.7Q345.9 514.3 353.6 514.8M268.3 491.7Q265.4 484 258.1 480.1M244 474.3Q261.3 472.8 270 457.8M347.3 445.4Q348.5 463 365.7 467M306.4 557Q317 545 333 546.4M311.3 456.6Q304 455.8 297.8 459.6M333.6 450.2Q339.2 456.1 340.4 464.1M324.6 559.2Q302.5 541.6 311.3 514.8M401.1 402.3Q372.2 398.6 351.6 377.9M274.9 542.3Q274.9 528.3 285.4 519M254.9 448.6Q242.4 437.1 229.2 447.8M424.8 413.7Q417.5 410 410.7 414.5M300.7 430.6Q296.3 438.8 287 438.6M394.2 458.3Q380.4 443.6 360.6 439.4M241.9 457.4Q235.5 448 242.9 439.4M333.3 406.3Q320.6 419.3 331.2 434.1M348.6 430.4Q338.7 426.4 331.2 434.1M408.3 453.9Q412.5 462.7 407.9 471.2M382.1 367.2Q390.2 368.6 394.6 375.5M277.2 369.9Q298.8 353.8 321.6 368M344.2 487.2Q352.4 490.4 355.8 498.5M429.7 427.7Q421.3 422.8 424.8 413.7M236.9 417.7Q236.9 408 244.8 402.3M434.7 459.1Q437.5 442.6 429.7 427.7M257.2 464.4Q254.8 472.4 258.1 480.1M406.4 427.4Q417.9 439.9 408.3 453.9M361.2 421.8Q350.6 413.2 338.9 420.2M312.5 473.2Q318.9 479.9 315.1 488.4M282.9 498Q286.5 505.9 294.8 508.2M341.6 502.9Q349.7 504 355.8 498.5M342 353.8Q346 361.8 340.5 368.8M302.3 444.6Q295.9 438.4 287 438.6M323.2 461.9Q332.9 460 333.6 450.2M401.6 487.2Q388.7 503.8 389.7 524.8M415.7 516.7Q397 529.3 378.5 516.5M250.6 416.5Q244.7 410.6 244.8 402.3M289.8 550.9Q282.5 544 286.8 534.9M272.1 508.2Q265.2 505.5 258.1 507.4M382.3 402.3Q391.7 405.4 393 415.2M273.3 474Q283.2 475.4 285.7 465.7M251.8 493.3Q260 498.1 258.1 507.4M329.2 488.5Q322.1 494.3 315.1 488.4M231.9 480.9Q236.6 475.1 244 474.3M261.8 401.2Q259.6 380.7 277.2 369.9M325.4 503.3Q313.8 503.5 311.3 514.8M372.7 494.3Q362.5 493.8 361.9 483.6M298.9 475.6Q302 488.3 315.1 488.4M300.1 526.1Q317.8 520.3 325.4 503.3M416.8 399.6Q415.1 390.9 407.2 386.8M364.7 524.4Q361.8 539.3 348.7 546.8M377.6 534Q375.5 503.4 401.6 487.2M291.5 409.2Q280.3 420.2 265 416.5M273.7 391.6Q294.2 396.8 304.4 415.3M314.3 431.7Q323.1 430.2 331.2 434.1M324.8 394.8Q331 375 351.6 377.9M361.1 555.4Q353.6 565.2 342.6 559.5M354.5 457.4Q349.3 464.7 340.4 464.1M355 359.5Q344.4 359 340.5 368.8M318 445.4Q322.2 417 349.7 408.8M254.1 388.8Q255.5 396.5 261.8 401.2M368.6 361.1Q354.9 373.9 355.6 392.7M323.2 420.2Q340.7 430.9 333.6 450.2M420.8 449.7Q412.4 442.2 401.1 442.2M350.7 474.3Q346.7 496.4 325.4 503.3M429.2 490.5Q421.5 477.6 407.9 471.2M370.6 393.2Q380.9 388.7 391.9 391.1M348.2 531.6Q339.7 525 332.1 532.7M415.7 485.9Q406.2 474.9 391.7 473.5M364.6 407.6Q371.2 397.4 382.3 402.3M266 379Q257.9 381.2 254.1 388.8M232 431.7Q243.6 421.5 255.7 431.2M309.5 355.9Q326.4 364.8 342 353.8M291.4 362.2Q285.5 368.3 277.2 369.9M379.4 381.9Q381.6 392 391.9 391.1M341.7 392.7Q334.6 388.3 331.2 380.7M298.1 490Q300.5 497.9 308 501.3M301.5 383.5Q308.4 377.9 316.4 381.9M405.3 501Q398.4 508.8 388.9 504.6M400.8 514.8Q404.9 522.2 404.1 530.7M286.6 424.2Q282 431.5 287 438.6M285.7 481.4Q289.4 490.6 282.9 498M421.1 502.9Q423.7 492.7 415.7 485.9M390.9 541Q407 532.1 400.8 514.8M242.7 508.2Q244.2 498.9 251.8 493.3M375.6 549.3Q369.6 555.4 361.1 555.4M375.4 432Q379.5 425.2 378.3 417.3M391.1 430.4Q387 421.6 378.3 417.3M262.2 533.2Q252.5 531.4 252.9 521.5M277.1 408.4Q261.6 415.3 255.7 431.2M326.1 355Q341.4 352.1 355 359.5M379.8 461.6Q344.9 500.7 298.9 475.6M434.5 442.5Q417.5 439.3 408.3 453.9M323.2 461.9Q301.9 446 286.6 424.2M285.7 465.7Q286.7 458.6 284.6 451.8M311.3 456.6Q311.3 441.4 300.7 430.6M407.9 471.2Q372.6 454.1 333.6 450.2M286.6 424.2Q285 431.4 287 438.6M341.6 502.9Q325.1 496.6 308 501.3M328.7 474.5Q320.8 460.9 318 445.4M271.8 429.3Q288.9 433.2 302.3 444.6M329.2 488.5Q322.2 486.7 315.1 488.4M329.2 488.5Q322.1 491.1 315.1 488.4M302.3 444.6Q304 452.7 311.3 456.6M271.8 429.3Q278.5 435.4 287 438.6M328.7 474.5Q319.8 479.4 315.1 488.4M312.5 473.2Q305.3 472 298.9 475.6M302.3 444.6Q309 448.9 311.3 456.6M273.3 474Q287.5 454.9 311.3 456.6M302.3 444.6Q281.9 479.1 285.4 519M328.7 474.5Q316.1 461.1 297.8 459.6M354.5 457.4Q345.4 449.8 333.6 450.2M311.3 456.6Q308.5 468.3 298.9 475.6M316.4 407.3Q298.2 430.3 297.8 459.6M329.2 488.5Q326.5 481.6 328.7 474.5M300.7 430.6Q320.1 435.5 333.6 450.2M305.5 397.2Q284.4 426.3 297.8 459.6M254.9 448.6Q260.1 455.9 257.2 464.4M311.3 456.6Q290.8 463.8 270 457.8M298.9 475.6Q294.2 467.9 297.8 459.6M273.3 474Q291.8 463.3 302.3 444.6M312.5 473.2Q311.3 481.2 315.1 488.4M312.5 473.2Q301.8 470.1 297.8 459.6M350.7 474.3Q346.8 468 340.4 464.1M308 501.3Q289.4 479.8 284.6 451.8M311.3 514.8Q306.4 508.9 308 501.3M341.6 502.9Q356.6 498.3 361.9 483.6M370.6 393.2Q369.6 444.1 328.7 474.5M285.7 465.7Q296.9 445.2 286.6 424.2M287 438.6Q270.1 452.4 273.3 474M315.1 488.4Q312.5 481 312.5 473.2M333.6 450.2Q321.7 450.6 311.3 456.6M331.2 380.7Q306.6 388.3 291.5 409.2M284.6 451.8Q314.3 432 347.3 445.4M315.1 531.1Q325.6 477.4 287 438.6M331.2 434.1Q313.5 457.2 285.7 465.7M325.4 503.3Q328.6 510.4 325.9 517.8M333.6 450.2Q311.6 449.7 300.7 430.6M302.3 444.6Q325 433.4 347.3 445.4M365.7 467Q341.6 433.8 300.7 430.6M340.4 464.1Q336.9 471.9 328.7 474.5M341.6 502.9Q332.4 498.3 329.2 488.5M298.9 475.6Q313.2 472.5 323.2 461.9M308 501.3Q316.4 505.2 325.4 503.3M375.4 432Q338.4 412.2 300.7 430.6M353.6 514.8Q319.8 493.2 297.8 459.6M314.3 431.7Q301.5 438.5 287 438.6M297.8 459.6Q292.5 453.5 284.6 451.8M273.3 474Q277.5 481.1 285.7 481.4M360.6 439.4Q355.9 456.2 340.4 464.1M323.2 420.2Q302.5 424.4 287 438.6M325.4 503.3Q324.7 495.2 329.2 488.5M360.6 439.4Q357.8 473.2 341.6 502.9M311.3 456.6Q337.9 453.6 360.6 439.4M284.6 451.8Q300.3 443.2 318 445.4M340.4 464.1Q337.4 476.5 344.2 487.2M298.9 475.6Q297.3 491.4 282.9 498M298.9 475.6Q315.5 478.7 329.2 488.5M339.6 518.7Q306.8 507.4 272.1 508.2M323.2 461.9Q324.3 476.7 315.1 488.4M229.2 447.8Q230.8 456.2 229 464.6M329.2 488.5Q310.8 477 297.8 459.6M287 438.6Q278.9 442.8 269.7 443.3M269.7 443.3Q281 452.1 285.7 465.7M311.3 456.6Q304.1 455.9 297.8 459.6M354.5 457.4Q320.7 439.9 284.6 451.8M311.3 456.6Q296.4 474.3 273.3 474M360.6 439.4Q353.3 440.9 347.3 445.4M312.5 473.2Q308.2 463.1 297.8 459.6M311.3 456.6Q308.8 468.5 298.9 475.6M269.7 443.3Q279.4 443.6 284.6 451.8M297.8 459.6Q310.8 457.3 323.2 461.9M315.1 488.4Q316.7 480.3 312.5 473.2M286.6 424.2Q295.3 423.7 300.7 430.6M323.2 461.9Q301 468.1 284.6 451.8M329.2 488.5Q302.3 475.8 284.6 451.8M300.7 430.6Q284.1 434.2 269.7 443.3M297.8 459.6Q305.1 460.7 311.3 456.6M285.7 465.7Q287.2 473.5 285.7 481.4M339.6 518.7Q322.5 485.8 285.7 481.4M285.7 465.7Q303.3 484.9 329.2 488.5M355.8 498.5Q349.2 487.3 350.7 474.3M311.3 456.6Q283.4 454.5 257.2 464.4M271.8 429.3Q289.1 440.8 297.8 459.6M284.6 451.8Q292.1 444.8 302.3 444.6M286.6 424.2Q281.3 442.5 270 457.8M361.9 483.6Q354.2 470.5 340.4 464.1M308 501.3Q314.1 447.8 361.2 421.8M331.2 434.1Q307.1 448.7 298.9 475.6M285.7 465.7Q296.8 481.7 315.1 488.4M308 501.3Q296.4 466.8 300.7 430.6M297.8 459.6Q292.1 454.2 284.6 451.8M261.8 401.2Q280.5 429.5 314.3 431.7M344.2 487.2Q348.2 494.7 355.8 498.5M298.9 475.6Q302.1 464.1 311.3 456.6M284.6 451.8Q265.2 460.2 258.1 480.1M261.8 401.2Q280.9 434.7 318 445.4M325.4 503.3Q336.9 497.7 344.2 487.2M329.2 488.5Q336.1 475.5 350.7 474.3M344.2 487.2Q329.9 494.9 315.1 488.4M353.6 514.8Q335.6 498.1 328.7 474.5M302.3 444.6Q292.3 445.5 284.6 451.8M353.6 514.8Q350.5 488.9 328.7 474.5M294.8 508.2Q310.1 503.6 315.1 488.4M311.3 456.6Q322.1 463.5 328.7 474.5M354.5 457.4Q338.1 454.5 323.2 461.9M287 438.6Q281.7 459.9 285.7 481.4M323.2 461.9Q322.2 469.8 328.7 474.5M312.5 473.2Q324.7 446.9 348.6 430.4M311.3 456.6Q301.6 478.4 308 501.3M312.5 473.2Q307.8 492.8 294.8 508.2M285.7 465.7Q298.4 458.6 302.3 444.6M328.7 474.5Q324.9 484.4 315.1 488.4M304.4 415.3Q295.5 429.4 302.3 444.6M314.3 431.7Q286.6 448.9 285.7 481.4M364.7 524.4Q344.4 526.2 325.9 517.8M372.7 494.3Q356.4 499.1 344.2 487.2M323.2 461.9Q313.7 473.5 298.9 475.6M318 445.4Q326.8 444.7 333.6 450.2M285.7 465.7Q304.8 467 323.2 461.9M297.8 459.6Q309.8 468.2 323.2 461.9M315.1 488.4Q310.3 481.4 312.5 473.2M324.8 394.8Q310.6 401 304.4 415.3M285.7 465.7Q301.4 439.7 331.2 434.1M325.4 503.3Q308.4 518.8 285.4 519M255.7 431.2Q270 422.5 286.6 424.2M341.6 502.9Q322.3 457.9 286.6 424.2M298.1 490Q288.3 479.7 285.7 465.7M340.4 464.1Q321.7 477.2 298.9 475.6M300.7 430.6Q312.8 440.8 311.3 456.6M333.6 450.2Q325 450.3 318 445.4M338.9 420.2Q324.9 422.2 314.3 431.7M315.1 488.4Q309 479.5 298.9 475.6M257.2 464.4Q259.7 451.6 269.7 443.3M323.2 461.9Q303.4 490.9 268.3 491.7M315.1 488.4Q298.2 479.8 285.7 465.7M361.9 483.6Q337 498.8 308 501.3M325.4 503.3Q332.8 489.6 328.7 474.5M302.3 444.6Q287.4 417.9 261.8 401.2M285.7 465.7Q296.9 477.4 312.5 473.2M268.3 491.7Q279.5 480.4 285.7 465.7M333.6 450.2Q309.3 457.9 284.6 451.8M375.4 432Q337.3 434.6 304.4 415.3M287 438.6Q303.4 438.1 318 445.4M341.6 502.9Q324.7 504.9 308 501.3M284.6 451.8Q272.5 443.8 271.8 429.3M328.7 474.5Q315.8 442.6 286.6 424.2M333.6 450.2Q317 452.9 302.3 444.6M325.4 503.3Q347.7 500.9 361.9 483.6M287 438.6Q297.4 446.5 297.8 459.6M300.7 430.6Q309.8 442 311.3 456.6M340.4 464.1Q323.7 443.7 300.7 430.6M318 445.4Q301.8 451.4 284.6 451.8M285.7 465.7Q281.7 473.2 273.3 474M300.7 430.6Q298.3 445.5 284.6 451.8M262.2 533.2Q262.5 502.1 285.7 481.4M282.9 498Q278 481.3 285.7 465.7M297.8 459.6Q310.5 456.2 318 445.4M287 438.6Q288.7 414.5 305.5 397.2M254.9 448.6Q271.7 477.2 258.1 507.4M273.3 474Q278.6 479.3 285.7 481.4M308 501.3Q291 467.3 300.7 430.6M298.9 475.6Q280.6 498.4 251.8 493.3M312.5 473.2Q323 460.8 318 445.4M354.5 457.4Q338.2 455 323.2 461.9M297.8 459.6Q295.7 450.8 302.3 444.6M325.9 517.8Q290.2 507.1 273.3 474M270 457.8Q292.1 444.2 318 445.4M297.8 459.6Q305.6 445.7 300.7 430.6M312.5 473.2Q298.3 472.3 285.7 465.7M277.1 408.4Q277.4 438.1 297.8 459.6M265 416.5Q266.7 444.7 285.7 465.7M350.7 474.3Q328.6 496.1 298.1 490M304.4 415.3Q311.4 422.3 314.3 431.7M318 445.4Q324.2 475.4 308 501.3M287 438.6Q301.5 446.7 318 445.4M331.2 434.1Q333.1 449.7 323.2 461.9M355.8 498.5Q328.7 482.7 311.3 456.6M323.2 420.2Q327.9 441 323.2 461.9M315.1 488.4Q296.1 482.7 285.7 465.7M285.7 465.7Q278 467.7 273.3 474M314.3 431.7Q293.9 443.6 285.7 465.7M268.3 491.7Q279 472 297.8 459.6M270 457.8Q278.7 460.1 285.7 465.7M270 457.8Q307.3 454.2 323.2 420.2M302.3 444.6Q307.5 427.9 323.2 420.2M258.1 480.1Q272.2 474.8 285.7 481.4M347.3 445.4Q333.9 451.7 323.2 461.9M251.8 493.3Q257.6 506.7 272.1 508.2M314.3 431.7Q293.4 432.9 284.6 451.8M382.3 402.3Q382.3 417.7 391.1 430.4M382.3 402.3Q399.8 400.6 410.7 414.5M420.8 449.7Q406 443.5 406.4 427.4M360.6 439.4Q361.6 405.7 391.9 391.1M406.4 427.4Q419.4 425.6 424.8 413.7M401.1 402.3Q388.4 389.3 370.6 393.2M394.6 375.5Q395.2 392 382.3 402.3M348.6 430.4Q352.7 437.5 360.6 439.4M377.6 478.1Q380 462.2 369.4 450.2M394.6 375.5Q396.4 386.2 407.2 386.8M408.3 453.9Q400.7 450.5 401.1 442.2M361.2 421.8Q367 396.9 391.9 391.1M375.4 432Q361.5 412.7 338.9 420.2M379.4 381.9Q364.9 399.4 361.2 421.8M333.3 406.3Q356.8 431.3 391.1 430.4M378.3 417.3Q373.9 409 364.6 407.6M424.8 413.7Q400.7 404.4 378.3 417.3M407.9 471.2Q387.5 441.8 410.7 414.5M382.3 402.3Q391.4 414.9 391.1 430.4M401.6 487.2Q394.7 460.7 369.4 450.2M364.6 407.6Q388 385.8 416.8 399.6M417.4 436.2Q420.5 423.4 410.7 414.5M379.4 381.9Q355.9 406 360.6 439.4M391.7 473.5Q388.1 455.4 401.1 442.2M355.6 392.7Q380.2 394.2 393 415.2M429.7 427.7Q411 437.2 391.1 430.4M364.6 407.6Q354.7 403.4 355.6 392.7M394.6 375.5Q384.3 405.1 406.4 427.4M410.7 414.5Q427.2 424.6 434.5 442.5M370.6 393.2Q370.6 384.2 379.4 381.9M361.2 421.8Q374.2 433 391.1 430.4M338.9 420.2Q361.8 441.8 391.1 430.4M361.2 421.8Q358 413.5 364.6 407.6M391.1 430.4Q372.7 425 364.6 407.6M401.1 402.3Q404.1 409.8 410.7 414.5" fill="none" stroke="#de4444" stroke-width="0.55" stroke-opacity="0.82" stroke-linecap="round"/>
<path d="M285.7 465.7Q292.8 464.8 297.8 459.6M286.6 424.2Q292.6 413.9 304.4 415.3M318 445.4Q281 433.7 257.2 464.4M271.8 429.3Q285.8 436.2 284.6 451.8M271.8 429.3Q278.1 436.1 287 438.6M323.2 461.9Q305.8 449.6 284.6 451.8M297.8 459.6Q293.2 465.6 285.7 465.7M284.6 451.8Q295.9 454.3 302.3 444.6M254.9 448.6Q269.2 474.6 298.9 475.6M315.1 488.4Q308.1 492.9 308 501.3M308 501.3Q314.6 472 302.3 444.6M255.7 431.2Q251.8 439.2 242.9 439.4M312.5 473.2Q306.1 476.4 298.9 475.6M271.8 429.3Q275.7 442 284.6 451.8M325.4 503.3Q317.4 497.8 315.1 488.4M314.3 431.7Q296.1 436.8 284.6 451.8M308 501.3Q284.5 483.5 270 457.8M302.3 444.6Q304.1 437.3 300.7 430.6M242.9 439.4Q232.9 468.7 251.8 493.3M268.3 491.7Q306.9 470.7 331.2 434.1M333.6 450.2Q338.4 438.2 348.6 430.4M318 445.4Q304.6 447.8 297.8 459.6M302.3 444.6Q328 441.5 340.4 464.1M338.9 420.2Q316.6 413.6 300.7 430.6M369.4 450.2Q337.2 431 302.3 444.6M297.8 459.6Q293.9 467.9 298.9 475.6M304.4 415.3Q275.9 437.8 273.3 474M300.7 430.6Q317.5 415.9 324.8 394.8M329.2 488.5Q325.2 476.2 312.5 473.2M273.3 474Q290.1 475.2 298.1 490M311.3 456.6Q300 462.7 298.9 475.6M285.7 465.7Q281.8 473.4 273.3 474M298.9 475.6Q294.3 462.2 284.6 451.8M284.6 451.8Q289.3 458.9 297.8 459.6M329.2 488.5Q332.5 481.4 328.7 474.5M344.2 487.2Q327.3 462.8 297.8 459.6M333.3 406.3Q297.6 404.5 271.8 429.3M314.3 431.7Q310.3 440 302.3 444.6M300.7 430.6Q303.1 445.5 297.8 459.6M300.7 430.6Q289.8 439 284.6 451.8M304.4 415.3Q308.9 430.3 302.3 444.6M311.3 456.6Q300.8 463.3 298.9 475.6M285.7 481.4Q283 473.5 285.7 465.7M300.7 430.6Q282.9 431.3 269.7 443.3M312.5 473.2Q318.2 483.8 329.2 488.5M304.4 415.3Q278.8 429.8 270 457.8M315.1 488.4Q309.1 458.9 287 438.6M311.3 456.6Q328.2 451.3 340.4 464.1M270 457.8Q290.8 461.4 311.3 456.6M298.1 490Q317.5 490.3 328.7 474.5M311.3 456.6Q318.2 457.1 323.2 461.9M242.9 439.4Q277.7 427.4 314.3 431.7M350.7 474.3Q311.1 482.4 284.6 451.8M286.6 424.2Q289.8 438 302.3 444.6M284.6 451.8Q277.2 437.4 286.6 424.2M298.9 475.6Q303.8 453.6 287 438.6M318 445.4Q310.4 440.3 302.3 444.6M257.2 464.4Q274.5 465.9 284.6 451.8M285.7 481.4Q291.1 460.1 287 438.6M298.9 475.6Q319 467.2 318 445.4M300.7 430.6Q305.7 442.3 318 445.4M315.1 488.4Q305.3 484.2 298.9 475.6M297.8 459.6Q303.4 468.3 312.5 473.2M297.8 459.6Q293.5 466.2 285.7 465.7M302.3 444.6Q313 430.6 304.4 415.3M285.7 465.7Q290.1 452 302.3 444.6M270 457.8Q278.4 457.5 284.6 451.8M287 438.6Q295 436.5 300.7 430.6M270 457.8Q276.1 433.8 300.7 430.6M300.7 430.6Q299.4 437.8 302.3 444.6M294.8 508.2Q308.9 502.4 315.1 488.4M251.8 493.3Q277.1 467.8 311.3 456.6M254.9 448.6Q288.4 456.9 298.1 490M297.8 459.6Q272.9 467.5 254.9 448.6M270 457.8Q274.1 450.5 269.7 443.3M298.9 475.6Q284.4 452.5 300.7 430.6M302.3 444.6Q295.6 453.4 284.6 451.8M329.2 488.5Q333 473.7 323.2 461.9M287 438.6Q302.7 442.8 311.3 456.6M302.3 444.6Q308.6 449.3 311.3 456.6M287 438.6Q303.2 425.6 323.2 420.2M273.3 474Q290.3 474.9 297.8 459.6M298.1 490Q286.5 480.6 285.7 465.7M285.7 465.7Q266.3 464.3 254.9 448.6M265 416.5Q276.7 436 270 457.8M298.9 475.6Q312.2 453.6 300.7 430.6M287 438.6Q288.5 445.7 284.6 451.8M318 445.4Q289 449.4 273.3 474M331.2 434.1Q297.6 434.3 285.7 465.7M286.6 424.2Q292.2 430.5 300.7 430.6M361.9 483.6Q305.9 466.1 291.5 409.2M312.5 473.2Q277.6 475.2 254.9 448.6M273.3 474Q271.7 459.2 284.6 451.8M347.3 445.4Q325.1 429.3 302.3 444.6M328.7 474.5Q310.1 473.6 297.8 459.6M312.5 473.2Q310.5 486.1 298.1 490M308 501.3Q290.9 498 285.7 481.4M297.8 459.6Q283.4 467.1 270 457.8M244 474.3Q271.2 484.4 298.9 475.6M305.5 397.2Q274.8 419.9 270 457.8M328.7 474.5Q304.3 467.8 284.6 451.8M285.4 519Q318.2 507.6 328.7 474.5M273.3 474Q281.5 488.6 298.1 490M314.3 431.7Q312.8 442.3 302.3 444.6M333.6 450.2Q321.9 443.1 314.3 431.7M304.4 415.3Q319.3 436.4 323.2 461.9M300.7 430.6Q313.6 440.5 311.3 456.6M298.9 475.6Q309.7 469.1 311.3 456.6M301.5 383.5Q288.5 409.5 287 438.6M311.3 456.6Q294 479.3 268.3 491.7M369.4 450.2Q353.2 453.7 340.4 464.1M284.6 451.8Q296.7 437.6 314.3 431.7M318 445.4Q312 458.3 297.8 459.6M328.7 474.5Q327.5 467.5 323.2 461.9M318 445.4Q306.2 441.7 300.7 430.6M324.8 394.8Q304.8 394.3 291.5 409.2M318 445.4Q317.5 452.7 311.3 456.6M284.6 451.8Q291.9 444.3 302.3 444.6M311.3 456.6Q310.5 441.8 300.7 430.6M328.7 474.5Q301.6 429.4 250.6 416.5M257.2 464.4Q262.7 459.3 270 457.8M315.1 488.4Q323.8 476.6 323.2 461.9M297.8 459.6Q290.2 439.8 271.8 429.3M302.3 444.6Q310.4 440.3 318 445.4M333.6 450.2Q321.4 449.6 311.3 456.6M268.3 491.7Q278.7 489.4 285.7 481.4M405.3 501Q393.9 499.5 387.1 490.2M377.6 478.1Q378.3 493.4 388.9 504.6M355.8 498.5Q370.9 509.7 388.9 504.6M361.9 483.6Q372.8 493.4 387.1 490.2M344.2 487.2Q361.6 484.2 365.7 467M378.5 516.5Q368.7 507.2 372.7 494.3M391.1 430.4Q406.3 429.1 410.7 414.5M378.3 417.3Q393.3 408.4 391.9 391.1M382.3 402.3Q390.3 387.4 407.2 386.8M417.4 436.2Q390.4 421.7 391.9 391.1M379.4 381.9Q388.8 382.3 391.9 391.1M401.1 402.3Q400.4 393.1 407.2 386.8" fill="none" stroke="#3a40ee" stroke-width="0.6" stroke-opacity="0.8" stroke-linecap="round"/>
<circle cx="309.5" cy="355.9" r="2.8" fill="#6cbcc8" stroke="#3f8a96" stroke-width="0.45"/>
<circle cx="326.1" cy="355" r="2.8" fill="#c6ae7a" stroke="#8c7a50" stroke-width="0.45"/>
<circle cx="291.4" cy="362.2" r="2.8" fill="#e8be3c" stroke="#a88420" stroke-width="0.45"/>
<circle cx="304.4" cy="369.1" r="2.8" fill="#88a888" stroke="#587858" stroke-width="0.45"/>
<circle cx="321.6" cy="368" r="2.8" fill="#f02a1e" stroke="#a01810" stroke-width="0.45"/>
<circle cx="277.2" cy="369.9" r="2.8" fill="#f02a1e" stroke="#a01810" stroke-width="0.45"/>
<circle cx="266" cy="379" r="2.8" fill="#e8be3c" stroke="#a88420" stroke-width="0.45"/>
<circle cx="287.5" cy="379.2" r="2.6" fill="#7272b2" stroke="#454580" stroke-width="0.45"/>
<circle cx="301.5" cy="383.5" r="2.8" fill="#e02ce6" stroke="#a018a8" stroke-width="0.45"/>
<circle cx="316.4" cy="381.9" r="2.8" fill="#e02ce6" stroke="#a018a8" stroke-width="0.45"/>
<circle cx="331.2" cy="380.7" r="2.8" fill="#80e02c" stroke="#50a018" stroke-width="0.45"/>
<circle cx="254.1" cy="388.8" r="2.8" fill="#f02a1e" stroke="#a01810" stroke-width="0.45"/>
<circle cx="273.7" cy="391.6" r="2.8" fill="#f02a1e" stroke="#a01810" stroke-width="0.45"/>
<circle cx="244.8" cy="402.3" r="2.8" fill="#f02a1e" stroke="#a01810" stroke-width="0.45"/>
<circle cx="261.8" cy="401.2" r="2.8" fill="#7272b2" stroke="#454580" stroke-width="0.45"/>
<circle cx="288.6" cy="395.1" r="2.8" fill="#e8be3c" stroke="#a88420" stroke-width="0.45"/>
<circle cx="305.5" cy="397.2" r="3" fill="#e8be3c" stroke="#a88420" stroke-width="0.45"/>
<circle cx="324.8" cy="394.8" r="2.8" fill="#80e02c" stroke="#50a018" stroke-width="0.45"/>
<circle cx="236.9" cy="417.7" r="2.8" fill="#f02a1e" stroke="#a01810" stroke-width="0.45"/>
<circle cx="250.6" cy="416.5" r="2.8" fill="#6cbcc8" stroke="#3f8a96" stroke-width="0.45"/>
<circle cx="265" cy="416.5" r="2.8" fill="#e8be3c" stroke="#a88420" stroke-width="0.45"/>
<circle cx="277.1" cy="408.4" r="3" fill="#7272b2" stroke="#454580" stroke-width="0.45"/>
<circle cx="291.5" cy="409.2" r="3" fill="#e02ce6" stroke="#a018a8" stroke-width="0.45"/>
<circle cx="304.4" cy="415.3" r="3.2" fill="#6cbcc8" stroke="#3f8a96" stroke-width="0.45"/>
<circle cx="316.4" cy="407.3" r="3.2" fill="#e02ce6" stroke="#a018a8" stroke-width="0.45"/>
<circle cx="323.2" cy="420.2" r="3.2" fill="#f02a1e" stroke="#a01810" stroke-width="0.45"/>
<circle cx="232" cy="431.7" r="2.8" fill="#f02a1e" stroke="#a01810" stroke-width="0.45"/>
<circle cx="255.7" cy="431.2" r="2.8" fill="#6cbcc8" stroke="#3f8a96" stroke-width="0.45"/>
<circle cx="271.8" cy="429.3" r="3.3" fill="#7272b2" stroke="#454580" stroke-width="0.45"/>
<circle cx="286.6" cy="424.2" r="3.5" fill="#e8be3c" stroke="#a88420" stroke-width="0.45"/>
<circle cx="300.7" cy="430.6" r="5" fill="#9898fa" stroke="#6060c0" stroke-width="0.45"/>
<circle cx="314.3" cy="431.7" r="3.8" fill="#7272b2" stroke="#454580" stroke-width="0.45"/>
<circle cx="331.2" cy="434.1" r="3" fill="#f02a1e" stroke="#a01810" stroke-width="0.45"/>
<circle cx="242.9" cy="439.4" r="2.8" fill="#f02a1e" stroke="#a01810" stroke-width="0.45"/>
<circle cx="229.2" cy="447.8" r="2.8" fill="#f02a1e" stroke="#a01810" stroke-width="0.45"/>
<circle cx="254.9" cy="448.6" r="3" fill="#f02a1e" stroke="#a01810" stroke-width="0.45"/>
<circle cx="269.7" cy="443.3" r="3.3" fill="#7272b2" stroke="#454580" stroke-width="0.45"/>
<circle cx="287" cy="438.6" r="3.5" fill="#e8be3c" stroke="#a88420" stroke-width="0.45"/>
<circle cx="302.3" cy="444.6" r="4.4" fill="#f02a1e" stroke="#a01810" stroke-width="0.45"/>
<circle cx="318" cy="445.4" r="4.4" fill="#6cbcc8" stroke="#3f8a96" stroke-width="0.45"/>
<circle cx="284.6" cy="451.8" r="4.4" fill="#6cbcc8" stroke="#3f8a96" stroke-width="0.45"/>
<circle cx="342" cy="353.8" r="2.8" fill="#2414f0" stroke="#1008a0" stroke-width="0.45"/>
<circle cx="355" cy="359.5" r="2.8" fill="#e02ce6" stroke="#a018a8" stroke-width="0.45"/>
<circle cx="368.6" cy="361.1" r="2.8" fill="#e8be3c" stroke="#a88420" stroke-width="0.45"/>
<circle cx="382.1" cy="367.2" r="2.8" fill="#f02a1e" stroke="#a01810" stroke-width="0.45"/>
<circle cx="340.5" cy="368.8" r="3.2" fill="#e02ce6" stroke="#a018a8" stroke-width="0.45"/>
<circle cx="351.6" cy="377.9" r="3" fill="#f02a1e" stroke="#a01810" stroke-width="0.45"/>
<circle cx="365.3" cy="376" r="3" fill="#c4faea" stroke="#80c0b0" stroke-width="0.45"/>
<circle cx="394.6" cy="375.5" r="3" fill="#80e02c" stroke="#50a018" stroke-width="0.45"/>
<circle cx="379.4" cy="381.9" r="3.2" fill="#c6ae7a" stroke="#8c7a50" stroke-width="0.45"/>
<circle cx="407.2" cy="386.8" r="3.2" fill="#f02a1e" stroke="#a01810" stroke-width="0.45"/>
<circle cx="341.7" cy="392.7" r="2.8" fill="#80e02c" stroke="#50a018" stroke-width="0.45"/>
<circle cx="355.6" cy="392.7" r="2.8" fill="#f02a1e" stroke="#a01810" stroke-width="0.45"/>
<circle cx="370.6" cy="393.2" r="3.4" fill="#f02a1e" stroke="#a01810" stroke-width="0.45"/>
<circle cx="391.9" cy="391.1" r="3.4" fill="#f02a1e" stroke="#a01810" stroke-width="0.45"/>
<circle cx="382.3" cy="402.3" r="3.2" fill="#f02a1e" stroke="#a01810" stroke-width="0.45"/>
<circle cx="401.1" cy="402.3" r="3.2" fill="#f02a1e" stroke="#a01810" stroke-width="0.45"/>
<circle cx="416.8" cy="399.6" r="2.8" fill="#6cbcc8" stroke="#3f8a96" stroke-width="0.45"/>
<circle cx="333.3" cy="406.3" r="2.8" fill="#f02a1e" stroke="#a01810" stroke-width="0.45"/>
<circle cx="349.7" cy="408.8" r="2.8" fill="#7272b2" stroke="#454580" stroke-width="0.45"/>
<circle cx="364.6" cy="407.6" r="2.8" fill="#c6ae7a" stroke="#8c7a50" stroke-width="0.45"/>
<circle cx="378.3" cy="417.3" r="3.2" fill="#e8be3c" stroke="#a88420" stroke-width="0.45"/>
<circle cx="393" cy="415.2" r="2.8" fill="#9898fa" stroke="#6060c0" stroke-width="0.45"/>
<circle cx="410.7" cy="414.5" r="2.8" fill="#e8be3c" stroke="#a88420" stroke-width="0.45"/>
<circle cx="424.8" cy="413.7" r="2.8" fill="#e02ce6" stroke="#a018a8" stroke-width="0.45"/>
<circle cx="338.9" cy="420.2" r="3.2" fill="#e8be3c" stroke="#a88420" stroke-width="0.45"/>
<circle cx="361.2" cy="421.8" r="2.8" fill="#c6ae7a" stroke="#8c7a50" stroke-width="0.45"/>
<circle cx="406.4" cy="427.4" r="3.2" fill="#6cbcc8" stroke="#3f8a96" stroke-width="0.45"/>
<circle cx="429.7" cy="427.7" r="2.8" fill="#e02ce6" stroke="#a018a8" stroke-width="0.45"/>
<circle cx="348.6" cy="430.4" r="3" fill="#c6ae7a" stroke="#8c7a50" stroke-width="0.45"/>
<circle cx="375.4" cy="432" r="2.8" fill="#f02a1e" stroke="#a01810" stroke-width="0.45"/>
<circle cx="391.1" cy="430.4" r="2.8" fill="#f02a1e" stroke="#a01810" stroke-width="0.45"/>
<circle cx="360.6" cy="439.4" r="3.4" fill="#f02a1e" stroke="#a01810" stroke-width="0.45"/>
<circle cx="417.4" cy="436.2" r="3.2" fill="#7272b2" stroke="#454580" stroke-width="0.45"/>
<circle cx="401.1" cy="442.2" r="3.2" fill="#f02a1e" stroke="#a01810" stroke-width="0.45"/>
<circle cx="434.5" cy="442.5" r="2.8" fill="#7272b2" stroke="#454580" stroke-width="0.45"/>
<circle cx="347.3" cy="445.4" r="3" fill="#e8be3c" stroke="#a88420" stroke-width="0.45"/>
<circle cx="383.9" cy="445.4" r="2.8" fill="#f02a1e" stroke="#a01810" stroke-width="0.45"/>
<circle cx="333.6" cy="450.2" r="4.4" fill="#f02a1e" stroke="#a01810" stroke-width="0.45"/>
<circle cx="369.4" cy="450.2" r="3" fill="#7272b2" stroke="#454580" stroke-width="0.45"/>
<circle cx="420.8" cy="449.7" r="2.8" fill="#e8be3c" stroke="#a88420" stroke-width="0.45"/>
<circle cx="408.3" cy="453.9" r="2.8" fill="#e8be3c" stroke="#a88420" stroke-width="0.45"/>
<circle cx="241.9" cy="457.4" r="2.8" fill="#e8be3c" stroke="#a88420" stroke-width="0.45"/>
<circle cx="229" cy="464.6" r="2.8" fill="#f02a1e" stroke="#a01810" stroke-width="0.45"/>
<circle cx="244" cy="474.3" r="2.8" fill="#f02a1e" stroke="#a01810" stroke-width="0.45"/>
<circle cx="257.2" cy="464.4" r="3.2" fill="#7272b2" stroke="#454580" stroke-width="0.45"/>
<circle cx="270" cy="457.8" r="3.7" fill="#7272b2" stroke="#454580" stroke-width="0.45"/>
<circle cx="297.8" cy="459.6" r="4.8" fill="#7272b2" stroke="#454580" stroke-width="0.45"/>
<circle cx="311.3" cy="456.6" r="4.3" fill="#6cbcc8" stroke="#3f8a96" stroke-width="0.45"/>
<circle cx="323.2" cy="461.9" r="4.3" fill="#c6ae7a" stroke="#8c7a50" stroke-width="0.45"/>
<circle cx="285.7" cy="465.7" r="4.8" fill="#80e02c" stroke="#50a018" stroke-width="0.45"/>
<circle cx="273.3" cy="474" r="4.4" fill="#7272b2" stroke="#454580" stroke-width="0.45"/>
<circle cx="298.9" cy="475.6" r="4.5" fill="#7272b2" stroke="#454580" stroke-width="0.45"/>
<circle cx="312.5" cy="473.2" r="4" fill="#80e02c" stroke="#50a018" stroke-width="0.45"/>
<circle cx="328.7" cy="474.5" r="4.3" fill="#6cbcc8" stroke="#3f8a96" stroke-width="0.45"/>
<circle cx="231.9" cy="480.9" r="2.8" fill="#6cbcc8" stroke="#3f8a96" stroke-width="0.45"/>
<circle cx="258.1" cy="480.1" r="2.8" fill="#c6ae7a" stroke="#8c7a50" stroke-width="0.45"/>
<circle cx="285.7" cy="481.4" r="3.7" fill="#7272b2" stroke="#454580" stroke-width="0.45"/>
<circle cx="298.1" cy="490" r="3.7" fill="#f02a1e" stroke="#a01810" stroke-width="0.45"/>
<circle cx="315.1" cy="488.4" r="3.4" fill="#2414f0" stroke="#1008a0" stroke-width="0.45"/>
<circle cx="329.2" cy="488.5" r="3.4" fill="#c4faea" stroke="#80c0b0" stroke-width="0.45"/>
<circle cx="237.4" cy="494.2" r="2.8" fill="#f02a1e" stroke="#a01810" stroke-width="0.45"/>
<circle cx="251.8" cy="493.3" r="2.8" fill="#c4faea" stroke="#80c0b0" stroke-width="0.45"/>
<circle cx="268.3" cy="491.7" r="2.8" fill="#6cbcc8" stroke="#3f8a96" stroke-width="0.45"/>
<circle cx="282.9" cy="498" r="3" fill="#f02a1e" stroke="#a01810" stroke-width="0.45"/>
<circle cx="308" cy="501.3" r="3.8" fill="#6cbcc8" stroke="#3f8a96" stroke-width="0.45"/>
<circle cx="325.4" cy="503.3" r="3.2" fill="#f02a1e" stroke="#a01810" stroke-width="0.45"/>
<circle cx="242.7" cy="508.2" r="2.8" fill="#6cbcc8" stroke="#3f8a96" stroke-width="0.45"/>
<circle cx="258.1" cy="507.4" r="2.8" fill="#f02a1e" stroke="#a01810" stroke-width="0.45"/>
<circle cx="272.1" cy="508.2" r="2.8" fill="#6cbcc8" stroke="#3f8a96" stroke-width="0.45"/>
<circle cx="294.8" cy="508.2" r="2.8" fill="#e8be3c" stroke="#a88420" stroke-width="0.45"/>
<circle cx="311.3" cy="514.8" r="3.2" fill="#6cbcc8" stroke="#3f8a96" stroke-width="0.45"/>
<circle cx="325.9" cy="517.8" r="3" fill="#6cbcc8" stroke="#3f8a96" stroke-width="0.45"/>
<circle cx="285.4" cy="519" r="2.8" fill="#6cbcc8" stroke="#3f8a96" stroke-width="0.45"/>
<circle cx="252.9" cy="521.5" r="2.8" fill="#c4faea" stroke="#80c0b0" stroke-width="0.45"/>
<circle cx="271.3" cy="523.1" r="2.8" fill="#f02a1e" stroke="#a01810" stroke-width="0.45"/>
<circle cx="300.1" cy="526.1" r="2.8" fill="#7272b2" stroke="#454580" stroke-width="0.45"/>
<circle cx="262.2" cy="533.2" r="2.8" fill="#f02a1e" stroke="#a01810" stroke-width="0.45"/>
<circle cx="286.8" cy="534.9" r="2.8" fill="#f02a1e" stroke="#a01810" stroke-width="0.45"/>
<circle cx="315.1" cy="531.1" r="2.8" fill="#e8be3c" stroke="#a88420" stroke-width="0.45"/>
<circle cx="274.9" cy="542.3" r="2.8" fill="#2414f0" stroke="#1008a0" stroke-width="0.45"/>
<circle cx="301.9" cy="541.8" r="2.8" fill="#80e02c" stroke="#50a018" stroke-width="0.45"/>
<circle cx="317.1" cy="545.5" r="2.8" fill="#e8be3c" stroke="#a88420" stroke-width="0.45"/>
<circle cx="289.8" cy="550.9" r="2.8" fill="#f02a1e" stroke="#a01810" stroke-width="0.45"/>
<circle cx="306.4" cy="557" r="2.8" fill="#f02a1e" stroke="#a01810" stroke-width="0.45"/>
<circle cx="324.6" cy="559.2" r="2.8" fill="#6cbcc8" stroke="#3f8a96" stroke-width="0.45"/>
<circle cx="354.5" cy="457.4" r="3.5" fill="#f02a1e" stroke="#a01810" stroke-width="0.45"/>
<circle cx="379.8" cy="461.6" r="3" fill="#f02a1e" stroke="#a01810" stroke-width="0.45"/>
<circle cx="394.2" cy="458.3" r="3" fill="#c4faea" stroke="#80c0b0" stroke-width="0.45"/>
<circle cx="434.7" cy="459.1" r="3" fill="#6cbcc8" stroke="#3f8a96" stroke-width="0.45"/>
<circle cx="340.4" cy="464.1" r="4" fill="#c4faea" stroke="#80c0b0" stroke-width="0.45"/>
<circle cx="365.7" cy="467" r="3.2" fill="#c6ae7a" stroke="#8c7a50" stroke-width="0.45"/>
<circle cx="391.7" cy="473.5" r="3" fill="#e8be3c" stroke="#a88420" stroke-width="0.45"/>
<circle cx="407.9" cy="471.2" r="3.2" fill="#e8be3c" stroke="#a88420" stroke-width="0.45"/>
<circle cx="421.5" cy="466.9" r="2.8" fill="#2414f0" stroke="#1008a0" stroke-width="0.45"/>
<circle cx="432.2" cy="476" r="3" fill="#2414f0" stroke="#1008a0" stroke-width="0.45"/>
<circle cx="350.7" cy="474.3" r="3.2" fill="#6cbcc8" stroke="#3f8a96" stroke-width="0.45"/>
<circle cx="377.6" cy="478.1" r="3" fill="#6cbcc8" stroke="#3f8a96" stroke-width="0.45"/>
<circle cx="344.2" cy="487.2" r="4" fill="#f02a1e" stroke="#a01810" stroke-width="0.45"/>
<circle cx="361.9" cy="483.6" r="3.2" fill="#6cbcc8" stroke="#3f8a96" stroke-width="0.45"/>
<circle cx="401.6" cy="487.2" r="3.2" fill="#2414f0" stroke="#1008a0" stroke-width="0.45"/>
<circle cx="415.7" cy="485.9" r="3" fill="#6cbcc8" stroke="#3f8a96" stroke-width="0.45"/>
<circle cx="429.2" cy="490.5" r="3" fill="#f02a1e" stroke="#a01810" stroke-width="0.45"/>
<circle cx="387.1" cy="490.2" r="3" fill="#f02a1e" stroke="#a01810" stroke-width="0.45"/>
<circle cx="372.7" cy="494.3" r="3" fill="#f02a1e" stroke="#a01810" stroke-width="0.45"/>
<circle cx="355.8" cy="498.5" r="3.4" fill="#f02a1e" stroke="#a01810" stroke-width="0.45"/>
<circle cx="405.3" cy="501" r="2.8" fill="#7272b2" stroke="#454580" stroke-width="0.45"/>
<circle cx="421.1" cy="502.9" r="2.8" fill="#f02a1e" stroke="#a01810" stroke-width="0.45"/>
<circle cx="341.6" cy="502.9" r="3.6" fill="#6cbcc8" stroke="#3f8a96" stroke-width="0.45"/>
<circle cx="388.9" cy="504.6" r="3" fill="#6cbcc8" stroke="#3f8a96" stroke-width="0.45"/>
<circle cx="367.7" cy="507.6" r="3" fill="#7272b2" stroke="#454580" stroke-width="0.45"/>
<circle cx="378.5" cy="516.5" r="3.6" fill="#2414f0" stroke="#1008a0" stroke-width="0.45"/>
<circle cx="353.6" cy="514.8" r="3" fill="#6cbcc8" stroke="#3f8a96" stroke-width="0.45"/>
<circle cx="400.8" cy="514.8" r="3" fill="#6cbcc8" stroke="#3f8a96" stroke-width="0.45"/>
<circle cx="415.7" cy="516.7" r="3" fill="#f02a1e" stroke="#a01810" stroke-width="0.45"/>
<circle cx="339.6" cy="518.7" r="3.8" fill="#f02a1e" stroke="#a01810" stroke-width="0.45"/>
<circle cx="364.7" cy="524.4" r="2.8" fill="#c6ae7a" stroke="#8c7a50" stroke-width="0.45"/>
<circle cx="389.7" cy="524.8" r="3" fill="#6cbcc8" stroke="#3f8a96" stroke-width="0.45"/>
<circle cx="332.1" cy="532.7" r="2.8" fill="#6cbcc8" stroke="#3f8a96" stroke-width="0.45"/>
<circle cx="348.2" cy="531.6" r="3" fill="#80e02c" stroke="#50a018" stroke-width="0.45"/>
<circle cx="377.6" cy="534" r="3.2" fill="#6cbcc8" stroke="#3f8a96" stroke-width="0.45"/>
<circle cx="404.1" cy="530.7" r="3" fill="#f02a1e" stroke="#a01810" stroke-width="0.45"/>
<circle cx="361.9" cy="539.8" r="3.2" fill="#2414f0" stroke="#1008a0" stroke-width="0.45"/>
<circle cx="390.9" cy="541" r="2.8" fill="#f02a1e" stroke="#a01810" stroke-width="0.45"/>
<circle cx="333" cy="546.4" r="2.8" fill="#c6ae7a" stroke="#8c7a50" stroke-width="0.45"/>
<circle cx="348.7" cy="546.8" r="3" fill="#6cbcc8" stroke="#3f8a96" stroke-width="0.45"/>
<circle cx="375.6" cy="549.3" r="3" fill="#6cbcc8" stroke="#3f8a96" stroke-width="0.45"/>
<circle cx="361.1" cy="555.4" r="3" fill="#6cbcc8" stroke="#3f8a96" stroke-width="0.45"/>
<circle cx="342.6" cy="559.5" r="2.8" fill="#f02a1e" stroke="#a01810" stroke-width="0.45"/>
</g>
</svg>
</body></html>
